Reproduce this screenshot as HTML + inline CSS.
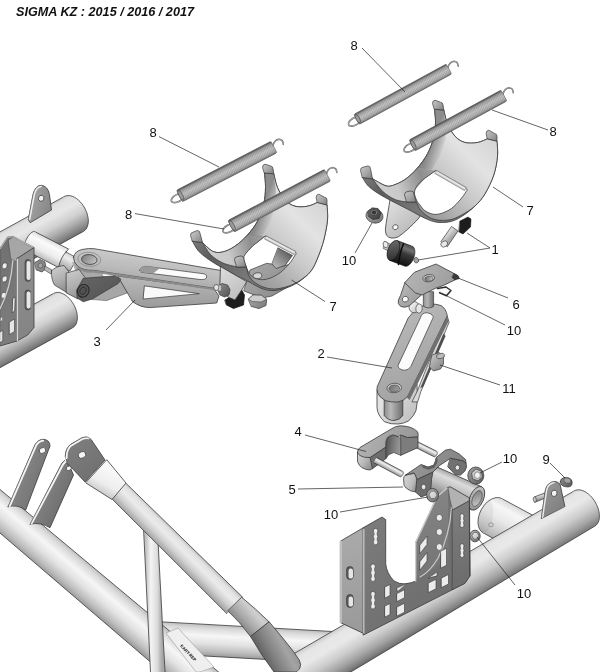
<!DOCTYPE html>
<html><head><meta charset="utf-8"><title>SIGMA KZ</title>
<style>
html,body{margin:0;padding:0;background:#fff;}
body{width:600px;height:672px;overflow:hidden;font-family:"Liberation Sans",sans-serif;}
svg{display:block;will-change:transform;opacity:0.999}
svg text{font-family:"Liberation Sans",sans-serif;fill:#111;}
</style></head><body>
<svg width="600" height="672" viewBox="0 0 600 672">
<defs>
<linearGradient id="g1" gradientUnits="userSpaceOnUse" x1="238.4" y1="626.2" x2="236.6" y2="657.8"><stop offset="0" stop-color="#bdbdbd"/><stop offset="0.12" stop-color="#d9d9d9"/><stop offset="0.35" stop-color="#f6f6f6"/><stop offset="0.6" stop-color="#e2e2e2"/><stop offset="0.85" stop-color="#bcbcbc"/><stop offset="1" stop-color="#9a9a9a"/></linearGradient>
<linearGradient id="g2" gradientUnits="userSpaceOnUse" x1="112.8" y1="583.6" x2="90.2" y2="610.4"><stop offset="0" stop-color="#bdbdbd"/><stop offset="0.12" stop-color="#d9d9d9"/><stop offset="0.35" stop-color="#f6f6f6"/><stop offset="0.6" stop-color="#e2e2e2"/><stop offset="0.85" stop-color="#bcbcbc"/><stop offset="1" stop-color="#9a9a9a"/></linearGradient>
<linearGradient id="g3" gradientUnits="userSpaceOnUse" x1="522.0" y1="509.5" x2="503.5" y2="543.8"><stop offset="0" stop-color="#dadada"/><stop offset="0.2" stop-color="#f6f6f6"/><stop offset="0.5" stop-color="#e9e9e9"/><stop offset="0.8" stop-color="#cbcbcb"/><stop offset="1" stop-color="#b0b0b0"/></linearGradient>
<linearGradient id="g4" gradientUnits="userSpaceOnUse" x1="431.5" y1="573.8" x2="453.2" y2="610.7"><stop offset="0" stop-color="#d0d0d0"/><stop offset="0.1" stop-color="#e6e6e6"/><stop offset="0.32" stop-color="#e9e9e9"/><stop offset="0.58" stop-color="#cccccc"/><stop offset="0.8" stop-color="#a4a4a4"/><stop offset="0.94" stop-color="#828282"/><stop offset="1" stop-color="#6e6e6e"/></linearGradient>
<linearGradient id="g5" gradientUnits="userSpaceOnUse" x1="146.0" y1="600.0" x2="162.0" y2="600.0"><stop offset="0" stop-color="#c4c4c4"/><stop offset="0.3" stop-color="#f4f4f4"/><stop offset="0.7" stop-color="#dcdcdc"/><stop offset="1" stop-color="#a8a8a8"/></linearGradient>
<linearGradient id="g6" gradientUnits="userSpaceOnUse" x1="184.6" y1="540.5" x2="169.2" y2="556.1"><stop offset="0" stop-color="#c2c2c2"/><stop offset="0.15" stop-color="#e2e2e2"/><stop offset="0.4" stop-color="#ebebeb"/><stop offset="0.7" stop-color="#cfcfcf"/><stop offset="1" stop-color="#a2a2a2"/></linearGradient>
<linearGradient id="g7" gradientUnits="userSpaceOnUse" x1="110.0" y1="470.0" x2="98.0" y2="492.0"><stop offset="0" stop-color="#f8f8f8"/><stop offset="0.6" stop-color="#ededed"/><stop offset="1" stop-color="#c9c9c9"/></linearGradient>
<linearGradient id="g8" gradientUnits="userSpaceOnUse" x1="264.0" y1="610.0" x2="242.0" y2="630.0"><stop offset="0" stop-color="#b4b4b4"/><stop offset="0.3" stop-color="#cfcfcf"/><stop offset="0.7" stop-color="#a6a6a6"/><stop offset="1" stop-color="#7d7d7d"/></linearGradient>
<linearGradient id="g9" gradientUnits="userSpaceOnUse" x1="291.0" y1="640.0" x2="263.0" y2="656.0"><stop offset="0" stop-color="#8f8f8f"/><stop offset="0.3" stop-color="#a4a4a4"/><stop offset="0.7" stop-color="#828282"/><stop offset="1" stop-color="#646464"/></linearGradient>
<linearGradient id="g10" gradientUnits="userSpaceOnUse" x1="75.0" y1="440.0" x2="100.0" y2="475.0"><stop offset="0" stop-color="#7e7e7e"/><stop offset="1" stop-color="#707070"/></linearGradient>
<linearGradient id="g11" gradientUnits="userSpaceOnUse" x1="20.0" y1="470.0" x2="45.0" y2="480.0"><stop offset="0" stop-color="#858585"/><stop offset="1" stop-color="#737373"/></linearGradient>
<linearGradient id="g12" gradientUnits="userSpaceOnUse" x1="45.0" y1="490.0" x2="65.0" y2="500.0"><stop offset="0" stop-color="#828282"/><stop offset="1" stop-color="#707070"/></linearGradient>
<linearGradient id="g13" gradientUnits="userSpaceOnUse" x1="535.0" y1="497.0" x2="536.0" y2="502.0"><stop offset="0" stop-color="#cfcfcf"/><stop offset="1" stop-color="#7d7d7d"/></linearGradient>
<linearGradient id="g14" gradientUnits="userSpaceOnUse" x1="546.0" y1="488.0" x2="566.0" y2="505.0"><stop offset="0" stop-color="#949494"/><stop offset="1" stop-color="#808080"/></linearGradient>
<linearGradient id="g15" gradientUnits="userSpaceOnUse" x1="562.0" y1="477.0" x2="572.0" y2="487.0"><stop offset="0" stop-color="#8c8c8c"/><stop offset="1" stop-color="#555"/></linearGradient>
<linearGradient id="g16" gradientUnits="userSpaceOnUse" x1="16.2" y1="314.0" x2="35.1" y2="348.4"><stop offset="0" stop-color="#cdcdcd"/><stop offset="0.08" stop-color="#e1e1e1"/><stop offset="0.3" stop-color="#e7e7e7"/><stop offset="0.55" stop-color="#d0d0d0"/><stop offset="0.75" stop-color="#a9a9a9"/><stop offset="0.9" stop-color="#878787"/><stop offset="1" stop-color="#707070"/></linearGradient>
<linearGradient id="g17" gradientUnits="userSpaceOnUse" x1="21.3" y1="220.2" x2="40.5" y2="255.0"><stop offset="0" stop-color="#cdcdcd"/><stop offset="0.08" stop-color="#e1e1e1"/><stop offset="0.3" stop-color="#e7e7e7"/><stop offset="0.55" stop-color="#d0d0d0"/><stop offset="0.75" stop-color="#a9a9a9"/><stop offset="0.9" stop-color="#878787"/><stop offset="1" stop-color="#707070"/></linearGradient>
<linearGradient id="g18" gradientUnits="userSpaceOnUse" x1="32.0" y1="200.0" x2="52.0" y2="205.0"><stop offset="0" stop-color="#a0a0a0"/><stop offset="1" stop-color="#868686"/></linearGradient>
<linearGradient id="g19" gradientUnits="userSpaceOnUse" x1="51.6" y1="240.3" x2="41.9" y2="259.0"><stop offset="0" stop-color="#dcdcdc"/><stop offset="0.25" stop-color="#fbfbfb"/><stop offset="0.65" stop-color="#ececec"/><stop offset="1" stop-color="#b9b9b9"/></linearGradient>
<linearGradient id="g20" gradientUnits="userSpaceOnUse" x1="72.0" y1="254.0" x2="64.0" y2="269.0"><stop offset="0" stop-color="#cfcfcf"/><stop offset="0.35" stop-color="#ececec"/><stop offset="1" stop-color="#a2a2a2"/></linearGradient>
<linearGradient id="g21" gradientUnits="userSpaceOnUse" x1="0.0" y1="250.0" x2="16.0" y2="330.0"><stop offset="0" stop-color="#727272"/><stop offset="1" stop-color="#7c7c7c"/></linearGradient>
<linearGradient id="g22" gradientUnits="userSpaceOnUse" x1="18.0" y1="255.0" x2="34.0" y2="330.0"><stop offset="0" stop-color="#8f8f8f"/><stop offset="1" stop-color="#858585"/></linearGradient>
<linearGradient id="g23" gradientUnits="userSpaceOnUse" x1="150.0" y1="280.0" x2="150.0" y2="308.0"><stop offset="0" stop-color="#b6b6b6"/><stop offset="1" stop-color="#9a9a9a"/></linearGradient>
<linearGradient id="g24" gradientUnits="userSpaceOnUse" x1="250.0" y1="262.0" x2="280.0" y2="292.0"><stop offset="0" stop-color="#a9a9a9"/><stop offset="1" stop-color="#8e8e8e"/></linearGradient>
<linearGradient id="g25" gradientUnits="userSpaceOnUse" x1="288.0" y1="252.0" x2="274.0" y2="267.0"><stop offset="0" stop-color="#5f5f5f"/><stop offset="0.5" stop-color="#8e8e8e"/><stop offset="1" stop-color="#b9b9b9"/></linearGradient>
<linearGradient id="g26" gradientUnits="userSpaceOnUse" x1="150.0" y1="252.0" x2="146.0" y2="285.0"><stop offset="0" stop-color="#cdcdcd"/><stop offset="0.6" stop-color="#b9b9b9"/><stop offset="1" stop-color="#a5a5a5"/></linearGradient>
<linearGradient id="g27" gradientUnits="userSpaceOnUse" x1="82.0" y1="255.0" x2="97.0" y2="264.0"><stop offset="0" stop-color="#7d7d7d"/><stop offset="1" stop-color="#c9c9c9"/></linearGradient>
<linearGradient id="g28" gradientUnits="userSpaceOnUse" x1="55.0" y1="268.0" x2="66.0" y2="292.0"><stop offset="0" stop-color="#c9c9c9"/><stop offset="0.4" stop-color="#b4b4b4"/><stop offset="1" stop-color="#8a8a8a"/></linearGradient>
<linearGradient id="g29" gradientUnits="userSpaceOnUse" x1="68.0" y1="272.0" x2="80.0" y2="298.0"><stop offset="0" stop-color="#c9c9c9"/><stop offset="0.5" stop-color="#b0b0b0"/><stop offset="1" stop-color="#909090"/></linearGradient>
<linearGradient id="g30" gradientUnits="userSpaceOnUse" x1="85.0" y1="276.0" x2="100.0" y2="300.0"><stop offset="0" stop-color="#646464"/><stop offset="1" stop-color="#585858"/></linearGradient>
<linearGradient id="g31" gradientUnits="userSpaceOnUse" x1="250.0" y1="296.0" x2="266.0" y2="308.0"><stop offset="0" stop-color="#a4a4a4"/><stop offset="1" stop-color="#7c7c7c"/></linearGradient>
<linearGradient id="g32" gradientUnits="userSpaceOnUse" x1="190.5" y1="232.5" x2="242.0" y2="278.3"><stop offset="0" stop-color="#858585"/><stop offset="0.45" stop-color="#5c5c5c"/><stop offset="1" stop-color="#777"/></linearGradient>
<linearGradient id="g33" gradientUnits="userSpaceOnUse" x1="236.0" y1="288.0" x2="322.0" y2="200.0"><stop offset="0" stop-color="#8a8a8a"/><stop offset="0.25" stop-color="#a4a4a4"/><stop offset="0.5" stop-color="#c8c8c8"/><stop offset="0.75" stop-color="#e3e3e3"/><stop offset="1" stop-color="#d4d4d4"/></linearGradient>
<linearGradient id="g34" gradientUnits="userSpaceOnUse" x1="202.5" y1="248.5" x2="265.5" y2="228.2"><stop offset="0" stop-color="#d0d0d0"/><stop offset="0.35" stop-color="#c9c9c9"/><stop offset="0.72" stop-color="#8e8e8e"/><stop offset="1" stop-color="#a6a6a6"/></linearGradient>
<linearGradient id="sh35" gradientUnits="userSpaceOnUse" x1="263.8" y1="203.8" x2="276.8" y2="208.8"><stop offset="0" stop-color="#7e7e7e" stop-opacity="0.85"/><stop offset="1" stop-color="#7e7e7e" stop-opacity="0"/></linearGradient>
<linearGradient id="g36" gradientUnits="userSpaceOnUse" x1="266.5" y1="236.0" x2="264.8" y2="239.2"><stop offset="0" stop-color="#bdbdbd"/><stop offset="0.4" stop-color="#efefef"/><stop offset="1" stop-color="#b0b0b0"/></linearGradient>
<linearGradient id="g37" gradientUnits="userSpaceOnUse" x1="190.5" y1="232.5" x2="202.5" y2="242.5"><stop offset="0" stop-color="#c6c6c6"/><stop offset="0.5" stop-color="#a6a6a6"/><stop offset="1" stop-color="#7e7e7e"/></linearGradient>
<linearGradient id="g38" gradientUnits="userSpaceOnUse" x1="262.5" y1="164.5" x2="273.8" y2="173.8"><stop offset="0" stop-color="#c6c6c6"/><stop offset="0.5" stop-color="#a6a6a6"/><stop offset="1" stop-color="#7e7e7e"/></linearGradient>
<linearGradient id="g39" gradientUnits="userSpaceOnUse" x1="316.2" y1="194.5" x2="327.0" y2="205.0"><stop offset="0" stop-color="#c6c6c6"/><stop offset="0.5" stop-color="#a6a6a6"/><stop offset="1" stop-color="#7e7e7e"/></linearGradient>
<linearGradient id="g40" gradientUnits="userSpaceOnUse" x1="234.5" y1="257.0" x2="246.2" y2="267.0"><stop offset="0" stop-color="#c6c6c6"/><stop offset="0.5" stop-color="#a6a6a6"/><stop offset="1" stop-color="#7e7e7e"/></linearGradient>
<linearGradient id="g41" gradientUnits="userSpaceOnUse" x1="222.0" y1="268.0" x2="242.0" y2="298.0"><stop offset="0" stop-color="#dcdcdc"/><stop offset="1" stop-color="#bdbdbd"/></linearGradient>
<linearGradient id="g42" gradientUnits="userSpaceOnUse" x1="218.0" y1="284.0" x2="230.0" y2="297.0"><stop offset="0" stop-color="#8a8a8a"/><stop offset="1" stop-color="#555"/></linearGradient>
<pattern id="sp43" patternUnits="userSpaceOnUse" width="1.7" height="20" patternTransform="translate(179.5 196.0) rotate(-19.4)"><rect width="1.7" height="20" fill="none"/><line x1="0.6" y1="0" x2="0.6" y2="20" stroke="#555" stroke-width="0.5" stroke-opacity="0.55"/></pattern>
<linearGradient id="g44" gradientUnits="userSpaceOnUse" x1="0.0" y1="-6.5" x2="0.0" y2="6.5"><stop offset="0" stop-color="#454545"/><stop offset="0.08" stop-color="#707070"/><stop offset="0.2" stop-color="#a6a6a6"/><stop offset="0.5" stop-color="#cdcdcd"/><stop offset="0.8" stop-color="#b4b4b4"/><stop offset="0.93" stop-color="#8c8c8c"/><stop offset="1" stop-color="#5e5e5e"/></linearGradient>
<pattern id="sp45" patternUnits="userSpaceOnUse" width="1.7" height="20" patternTransform="translate(231.0 226.3) rotate(-19.9)"><rect width="1.7" height="20" fill="none"/><line x1="0.6" y1="0" x2="0.6" y2="20" stroke="#555" stroke-width="0.5" stroke-opacity="0.55"/></pattern>
<linearGradient id="g46" gradientUnits="userSpaceOnUse" x1="0.0" y1="-6.6" x2="0.0" y2="6.6"><stop offset="0" stop-color="#454545"/><stop offset="0.08" stop-color="#707070"/><stop offset="0.2" stop-color="#a6a6a6"/><stop offset="0.5" stop-color="#cdcdcd"/><stop offset="0.8" stop-color="#b4b4b4"/><stop offset="0.93" stop-color="#8c8c8c"/><stop offset="1" stop-color="#5e5e5e"/></linearGradient>
<linearGradient id="g47" gradientUnits="userSpaceOnUse" x1="388.0" y1="205.0" x2="412.0" y2="232.0"><stop offset="0" stop-color="#dedede"/><stop offset="1" stop-color="#b9b9b9"/></linearGradient>
<linearGradient id="g48" gradientUnits="userSpaceOnUse" x1="444.0" y1="232.0" x2="451.0" y2="239.0"><stop offset="0" stop-color="#f4f4f4"/><stop offset="1" stop-color="#a4a4a4"/></linearGradient>
<linearGradient id="g49" gradientUnits="userSpaceOnUse" x1="404.8" y1="243.4" x2="397.2" y2="263.3"><stop offset="0" stop-color="#4e4e4e"/><stop offset="0.22" stop-color="#727272"/><stop offset="0.45" stop-color="#3a3a3a"/><stop offset="1" stop-color="#121212"/></linearGradient>
<linearGradient id="g50" gradientUnits="userSpaceOnUse" x1="388.0" y1="242.0" x2="399.0" y2="260.0"><stop offset="0" stop-color="#6a6a6a"/><stop offset="1" stop-color="#2c2c2c"/></linearGradient>
<linearGradient id="g51" gradientUnits="userSpaceOnUse" x1="367.0" y1="210.0" x2="382.0" y2="222.0"><stop offset="0" stop-color="#b4b4b4"/><stop offset="1" stop-color="#777"/></linearGradient>
<linearGradient id="g52" gradientUnits="userSpaceOnUse" x1="368.0" y1="208.0" x2="380.0" y2="220.0"><stop offset="0" stop-color="#6a6a6a"/><stop offset="1" stop-color="#3d3d3d"/></linearGradient>
<linearGradient id="g53" gradientUnits="userSpaceOnUse" x1="360.5" y1="167.5" x2="414.0" y2="212.5"><stop offset="0" stop-color="#858585"/><stop offset="0.45" stop-color="#5c5c5c"/><stop offset="1" stop-color="#777"/></linearGradient>
<linearGradient id="g54" gradientUnits="userSpaceOnUse" x1="406.0" y1="222.0" x2="492.0" y2="136.0"><stop offset="0" stop-color="#8a8a8a"/><stop offset="0.25" stop-color="#a4a4a4"/><stop offset="0.5" stop-color="#c8c8c8"/><stop offset="0.75" stop-color="#e3e3e3"/><stop offset="1" stop-color="#d4d4d4"/></linearGradient>
<linearGradient id="g55" gradientUnits="userSpaceOnUse" x1="372.5" y1="184.8" x2="435.8" y2="162.8"><stop offset="0" stop-color="#d0d0d0"/><stop offset="0.35" stop-color="#c9c9c9"/><stop offset="0.72" stop-color="#8e8e8e"/><stop offset="1" stop-color="#a6a6a6"/></linearGradient>
<linearGradient id="sh56" gradientUnits="userSpaceOnUse" x1="433.8" y1="137.5" x2="446.8" y2="142.5"><stop offset="0" stop-color="#7e7e7e" stop-opacity="0.85"/><stop offset="1" stop-color="#7e7e7e" stop-opacity="0"/></linearGradient>
<linearGradient id="g57" gradientUnits="userSpaceOnUse" x1="436.8" y1="170.5" x2="435.0" y2="173.6"><stop offset="0" stop-color="#bdbdbd"/><stop offset="0.4" stop-color="#efefef"/><stop offset="1" stop-color="#b0b0b0"/></linearGradient>
<linearGradient id="g58" gradientUnits="userSpaceOnUse" x1="360.5" y1="167.5" x2="372.5" y2="178.8"><stop offset="0" stop-color="#c6c6c6"/><stop offset="0.5" stop-color="#a6a6a6"/><stop offset="1" stop-color="#7e7e7e"/></linearGradient>
<linearGradient id="g59" gradientUnits="userSpaceOnUse" x1="432.5" y1="100.5" x2="443.8" y2="110.0"><stop offset="0" stop-color="#c6c6c6"/><stop offset="0.5" stop-color="#a6a6a6"/><stop offset="1" stop-color="#7e7e7e"/></linearGradient>
<linearGradient id="g60" gradientUnits="userSpaceOnUse" x1="486.2" y1="130.5" x2="497.0" y2="141.2"><stop offset="0" stop-color="#c6c6c6"/><stop offset="0.5" stop-color="#a6a6a6"/><stop offset="1" stop-color="#7e7e7e"/></linearGradient>
<linearGradient id="g61" gradientUnits="userSpaceOnUse" x1="404.5" y1="192.0" x2="416.2" y2="202.0"><stop offset="0" stop-color="#c6c6c6"/><stop offset="0.5" stop-color="#a6a6a6"/><stop offset="1" stop-color="#7e7e7e"/></linearGradient>
<pattern id="sp62" patternUnits="userSpaceOnUse" width="1.7" height="20" patternTransform="translate(356.5 119.4) rotate(-20.6)"><rect width="1.7" height="20" fill="none"/><line x1="0.6" y1="0" x2="0.6" y2="20" stroke="#555" stroke-width="0.5" stroke-opacity="0.55"/></pattern>
<linearGradient id="g63" gradientUnits="userSpaceOnUse" x1="0.0" y1="-5.7" x2="0.0" y2="5.7"><stop offset="0" stop-color="#454545"/><stop offset="0.08" stop-color="#707070"/><stop offset="0.2" stop-color="#a6a6a6"/><stop offset="0.5" stop-color="#cdcdcd"/><stop offset="0.8" stop-color="#b4b4b4"/><stop offset="0.93" stop-color="#8c8c8c"/><stop offset="1" stop-color="#5e5e5e"/></linearGradient>
<pattern id="sp64" patternUnits="userSpaceOnUse" width="1.7" height="20" patternTransform="translate(412.0 145.5) rotate(-20.5)"><rect width="1.7" height="20" fill="none"/><line x1="0.6" y1="0" x2="0.6" y2="20" stroke="#555" stroke-width="0.5" stroke-opacity="0.55"/></pattern>
<linearGradient id="g65" gradientUnits="userSpaceOnUse" x1="0.0" y1="-6.2" x2="0.0" y2="6.2"><stop offset="0" stop-color="#454545"/><stop offset="0.08" stop-color="#707070"/><stop offset="0.2" stop-color="#a6a6a6"/><stop offset="0.5" stop-color="#cdcdcd"/><stop offset="0.8" stop-color="#b4b4b4"/><stop offset="0.93" stop-color="#8c8c8c"/><stop offset="1" stop-color="#5e5e5e"/></linearGradient>
<linearGradient id="g66" gradientUnits="userSpaceOnUse" x1="458.9" y1="476.7" x2="448.8" y2="499.9"><stop offset="0" stop-color="#a6a6a6"/><stop offset="0.22" stop-color="#dcdcdc"/><stop offset="0.5" stop-color="#c2c2c2"/><stop offset="1" stop-color="#858585"/></linearGradient>
<linearGradient id="g67" gradientUnits="userSpaceOnUse" x1="470.0" y1="488.0" x2="484.0" y2="508.0"><stop offset="0" stop-color="#c4c4c4"/><stop offset="1" stop-color="#939393"/></linearGradient>
<linearGradient id="g68" gradientUnits="userSpaceOnUse" x1="470.0" y1="490.0" x2="484.0" y2="506.0"><stop offset="0" stop-color="#6f6f6f"/><stop offset="1" stop-color="#d4d4d4"/></linearGradient>
<linearGradient id="g69" gradientUnits="userSpaceOnUse" x1="341.0" y1="540.0" x2="363.0" y2="630.0"><stop offset="0" stop-color="#a9a9a9"/><stop offset="1" stop-color="#9a9a9a"/></linearGradient>
<linearGradient id="g70" gradientUnits="userSpaceOnUse" x1="364.0" y1="520.0" x2="470.0" y2="600.0"><stop offset="0" stop-color="#7c7c7c"/><stop offset="0.5" stop-color="#737373"/><stop offset="1" stop-color="#6c6c6c"/></linearGradient>
<linearGradient id="g71" gradientUnits="userSpaceOnUse" x1="416.0" y1="500.0" x2="452.0" y2="580.0"><stop offset="0" stop-color="#858585"/><stop offset="1" stop-color="#727272"/></linearGradient>
<linearGradient id="g72" gradientUnits="userSpaceOnUse" x1="455.0" y1="500.0" x2="470.0" y2="575.0"><stop offset="0" stop-color="#7f7f7f"/><stop offset="1" stop-color="#6e6e6e"/></linearGradient>
<linearGradient id="g73" gradientUnits="userSpaceOnUse" x1="403.0" y1="480.0" x2="418.0" y2="486.0"><stop offset="0" stop-color="#d4d4d4"/><stop offset="0.6" stop-color="#bdbdbd"/><stop offset="1" stop-color="#8f8f8f"/></linearGradient>
<linearGradient id="g74" gradientUnits="userSpaceOnUse" x1="410.0" y1="455.0" x2="460.0" y2="475.0"><stop offset="0" stop-color="#989898"/><stop offset="1" stop-color="#848484"/></linearGradient>
<linearGradient id="g75" gradientUnits="userSpaceOnUse" x1="423.6" y1="444.7" x2="420.9" y2="450.1"><stop offset="0" stop-color="#b4b4b4"/><stop offset="0.35" stop-color="#f0f0f0"/><stop offset="1" stop-color="#959595"/></linearGradient>
<linearGradient id="g76" gradientUnits="userSpaceOnUse" x1="386.0" y1="445.0" x2="402.0" y2="447.0"><stop offset="0" stop-color="#565656"/><stop offset="0.6" stop-color="#858585"/><stop offset="1" stop-color="#a0a0a0"/></linearGradient>
<linearGradient id="g77" gradientUnits="userSpaceOnUse" x1="357.0" y1="455.0" x2="373.0" y2="466.0"><stop offset="0" stop-color="#d2d2d2"/><stop offset="0.5" stop-color="#b9b9b9"/><stop offset="1" stop-color="#8c8c8c"/></linearGradient>
<linearGradient id="g78" gradientUnits="userSpaceOnUse" x1="365.0" y1="430.0" x2="410.0" y2="450.0"><stop offset="0" stop-color="#b2b2b2"/><stop offset="1" stop-color="#979797"/></linearGradient>
<linearGradient id="g79" gradientUnits="userSpaceOnUse" x1="389.6" y1="464.4" x2="386.8" y2="469.6"><stop offset="0" stop-color="#b4b4b4"/><stop offset="0.35" stop-color="#f0f0f0"/><stop offset="1" stop-color="#959595"/></linearGradient>
<linearGradient id="g80" gradientUnits="userSpaceOnUse" x1="380.0" y1="405.0" x2="415.0" y2="425.0"><stop offset="0" stop-color="#e2e2e2"/><stop offset="1" stop-color="#bcbcbc"/></linearGradient>
<linearGradient id="g81" gradientUnits="userSpaceOnUse" x1="430.0" y1="352.0" x2="444.0" y2="366.0"><stop offset="0" stop-color="#d0d0d0"/><stop offset="1" stop-color="#8a8a8a"/></linearGradient>
<linearGradient id="g82" gradientUnits="userSpaceOnUse" x1="384.0" y1="410.0" x2="403.0" y2="410.0"><stop offset="0" stop-color="#8a8a8a"/><stop offset="0.35" stop-color="#b9b9b9"/><stop offset="1" stop-color="#6c6c6c"/></linearGradient>
<linearGradient id="g83" gradientUnits="userSpaceOnUse" x1="395.0" y1="320.0" x2="432.0" y2="380.0"><stop offset="0" stop-color="#b7b7b7"/><stop offset="1" stop-color="#a3a3a3"/></linearGradient>
<linearGradient id="g84" gradientUnits="userSpaceOnUse" x1="388.0" y1="385.0" x2="400.0" y2="392.0"><stop offset="0" stop-color="#6a6a6a"/><stop offset="1" stop-color="#a6a6a6"/></linearGradient>
<linearGradient id="g85" gradientUnits="userSpaceOnUse" x1="409.0" y1="302.0" x2="419.0" y2="312.0"><stop offset="0" stop-color="#fdfdfd"/><stop offset="1" stop-color="#c2c2c2"/></linearGradient>
<linearGradient id="g86" gradientUnits="userSpaceOnUse" x1="423.0" y1="300.0" x2="434.0" y2="300.0"><stop offset="0" stop-color="#8c8c8c"/><stop offset="0.4" stop-color="#b5b5b5"/><stop offset="1" stop-color="#6a6a6a"/></linearGradient>
<linearGradient id="g87" gradientUnits="userSpaceOnUse" x1="398.0" y1="285.0" x2="420.0" y2="305.0"><stop offset="0" stop-color="#b9b9b9"/><stop offset="1" stop-color="#9a9a9a"/></linearGradient>
<linearGradient id="g88" gradientUnits="userSpaceOnUse" x1="410.0" y1="268.0" x2="450.0" y2="292.0"><stop offset="0" stop-color="#b4b4b4"/><stop offset="1" stop-color="#9d9d9d"/></linearGradient>
<linearGradient id="g89" gradientUnits="userSpaceOnUse" x1="425.0" y1="276.0" x2="433.0" y2="281.0"><stop offset="0" stop-color="#5e5e5e"/><stop offset="1" stop-color="#cfcfcf"/></linearGradient>
<linearGradient id="g90" gradientUnits="userSpaceOnUse" x1="426.6" y1="489.2" x2="438.6" y2="501.2"><stop offset="0" stop-color="#b4b4b4"/><stop offset="1" stop-color="#6e6e6e"/></linearGradient>
<linearGradient id="g91" gradientUnits="userSpaceOnUse" x1="426.6" y1="489.2" x2="438.6" y2="501.2"><stop offset="0" stop-color="#f0f0f0"/><stop offset="1" stop-color="#b9b9b9"/></linearGradient>
<linearGradient id="g92" gradientUnits="userSpaceOnUse" x1="469.8" y1="530.8" x2="480.2" y2="541.2"><stop offset="0" stop-color="#b4b4b4"/><stop offset="1" stop-color="#6e6e6e"/></linearGradient>
<linearGradient id="g93" gradientUnits="userSpaceOnUse" x1="469.8" y1="530.8" x2="480.2" y2="541.2"><stop offset="0" stop-color="#f0f0f0"/><stop offset="1" stop-color="#b9b9b9"/></linearGradient>
<linearGradient id="g94" gradientUnits="userSpaceOnUse" x1="467.8" y1="467.6" x2="483.8" y2="483.6"><stop offset="0" stop-color="#a0a0a0"/><stop offset="1" stop-color="#5e5e5e"/></linearGradient>
<linearGradient id="g95" gradientUnits="userSpaceOnUse" x1="467.8" y1="467.6" x2="483.8" y2="483.6"><stop offset="0" stop-color="#dedede"/><stop offset="1" stop-color="#9d9d9d"/></linearGradient>
</defs>
<rect width="600" height="672" fill="#fff"/>
<text x="16" y="15.6" font-size="12.2" font-weight="bold" font-style="italic" fill="#000" textLength="178" lengthAdjust="spacingAndGlyphs">SIGMA KZ : 2015 / 2016 / 2017</text>
<polygon points="140.9,620.7 335.9,631.7 334.1,663.3 139.1,652.3" fill="url(#g1)" stroke="none"/>
<line x1="140.9" y1="620.7" x2="335.9" y2="631.7" stroke="#3a3a3a" stroke-width="0.8"/>
<line x1="139.1" y1="652.3" x2="334.1" y2="663.3" stroke="#3a3a3a" stroke-width="0.8"/>
<polygon points="-1.3,488.4 226.9,678.9 203.1,707.1 -22.7,513.6" fill="url(#g2)" stroke="none"/>
<line x1="-1.3" y1="488.4" x2="226.9" y2="678.9" stroke="#3a3a3a" stroke-width="0.8"/>
<line x1="-22.7" y1="513.6" x2="203.1" y2="707.1" stroke="#3a3a3a" stroke-width="0.8"/>
<polygon points="166.0,633.0 178.0,628.0 214.0,667.0 200.0,672.0 196.0,672.0" fill="#efefef" stroke="#888" stroke-width="0.5" stroke-linejoin="round" />
<text x="0" y="0" font-size="4.2" transform="translate(180,646) rotate(47)" fill="#333" font-weight="bold">KART-REP</text>
<polygon points="501.8,498.6 542.3,520.4 523.7,554.8 483.2,532.9" fill="url(#g3)" stroke="none"/>
<line x1="501.8" y1="498.6" x2="542.3" y2="520.4" stroke="#3a3a3a" stroke-width="0.8"/>
<line x1="483.2" y1="532.9" x2="523.7" y2="554.8" stroke="#3a3a3a" stroke-width="0.8"/>
<polygon points="483.2,532.9 481.9,532.0 480.7,530.8 479.7,529.3 478.9,527.6 478.4,525.7 478.0,523.6 478.0,521.4 478.2,519.1 478.6,516.7 479.3,514.4 480.2,512.0 481.3,509.7 482.6,507.5 484.1,505.5 485.7,503.6 487.4,501.9 489.3,500.5 491.1,499.4 493.0,498.5 494.9,497.9 496.8,497.6 498.6,497.6 500.2,497.9 501.8,498.6 502.8,499.2 484.3,533.5" fill="url(#g3)" stroke="none"/>
<polyline points="483.2,532.9 481.9,532.0 480.7,530.8 479.7,529.3 478.9,527.6 478.4,525.7 478.0,523.6 478.0,521.4 478.2,519.1 478.6,516.7 479.3,514.4 480.2,512.0 481.3,509.7 482.6,507.5 484.1,505.5 485.7,503.6 487.4,501.9 489.3,500.5 491.1,499.4 493.0,498.5 494.9,497.9 496.8,497.6 498.6,497.6 500.2,497.9 501.8,498.6" fill="none" stroke="#3a3a3a" stroke-width="0.8"/>
<ellipse cx="486" cy="516" rx="7" ry="17" transform="rotate(8 486 516)" fill="#000" opacity="0.05"/>
<ellipse cx="491.0" cy="524.8" rx="2.3" ry="2.0" transform="rotate(0.0 491.0 524.8)" fill="#cfcfcf" stroke="#777" stroke-width="0.6"/>
<polygon points="574.1,490.9 288.8,656.6 311.6,695.4 594.9,526.1" fill="url(#g4)" stroke="none"/>
<line x1="574.1" y1="490.9" x2="288.8" y2="656.6" stroke="#3a3a3a" stroke-width="0.8"/>
<line x1="594.9" y1="526.1" x2="311.6" y2="695.4" stroke="#3a3a3a" stroke-width="0.8"/>
<polygon points="574.1,490.9 575.6,490.2 577.3,489.9 579.1,489.8 580.9,490.1 582.8,490.7 584.8,491.6 586.7,492.8 588.6,494.2 590.5,495.9 592.2,497.8 593.8,499.9 595.3,502.2 596.5,504.5 597.6,506.9 598.4,509.4 599.0,511.8 599.3,514.2 599.4,516.4 599.3,518.6 598.9,520.5 598.2,522.3 597.3,523.8 596.2,525.1 594.9,526.1 593.8,526.7 573.1,491.5" fill="url(#g4)" stroke="none"/>
<polyline points="574.1,490.9 575.6,490.2 577.3,489.9 579.1,489.8 580.9,490.1 582.8,490.7 584.8,491.6 586.7,492.8 588.6,494.2 590.5,495.9 592.2,497.8 593.8,499.9 595.3,502.2 596.5,504.5 597.6,506.9 598.4,509.4 599.0,511.8 599.3,514.2 599.4,516.4 599.3,518.6 598.9,520.5 598.2,522.3 597.3,523.8 596.2,525.1 594.9,526.1" fill="none" stroke="#3a3a3a" stroke-width="0.8"/>
<polygon points="143.5,528.0 158.0,541.0 165.0,672.0 150.5,672.0" fill="url(#g5)" stroke="none" stroke-width="0.8" stroke-linejoin="round" />
<line x1="143.5" y1="528.0" x2="150.5" y2="672.0" stroke="#3a3a3a" stroke-width="0.8"/>
<line x1="158.0" y1="541.0" x2="165.0" y2="672.0" stroke="#3a3a3a" stroke-width="0.8"/>
<polygon points="126.1,483.4 243.0,597.6 227.0,613.8 111.4,498.3" fill="url(#g6)" stroke="none"/>
<line x1="126.1" y1="483.4" x2="243.0" y2="597.6" stroke="#3a3a3a" stroke-width="0.8"/>
<line x1="111.4" y1="498.3" x2="227.0" y2="613.8" stroke="#3a3a3a" stroke-width="0.8"/>
<path d="M107,460 L126,483 L112,499.5 L86,483 Z" fill="url(#g7)" stroke="#3a3a3a" stroke-width="0.8" stroke-linejoin="round" stroke-linecap="round" />
<path d="M242,597.5 Q256,609 269.3,622 L250.7,636.7 Q240,622 228,611 Z" fill="url(#g8)" stroke="#3a3a3a" stroke-width="0.8" stroke-linejoin="round" stroke-linecap="round" />
<path d="M269.3,622 L282.7,638 L293.3,651.3 L299.2,659.9 Q302,665 299.5,669 L296,672 L274,672 L270.7,667.3 L261.3,654 L250.7,636.7 Z" fill="url(#g9)" stroke="#3a3a3a" stroke-width="0.8" stroke-linejoin="round" stroke-linecap="round" />
<path d="M65.3,456 Q65.5,449 70,444.8 L82,437.8 Q88,435.6 91.5,440 L105,460 L85,482 L67.7,463.5 Z" fill="url(#g10)" stroke="#3a3a3a" stroke-width="0.8" stroke-linejoin="round" stroke-linecap="round" />
<path d="M66.6,458 Q66.3,449.5 71,445.6 L82.4,438.9 Q86,437.4 89,438.2" fill="none" stroke="#f4f4f4" stroke-width="2" stroke-linejoin="round" stroke-linecap="round" />
<path d="M65.3,456 Q65.5,449 70,444.8 L82,437.8 Q88,435.6 91.5,440" fill="none" stroke="#666" stroke-width="0.7" stroke-linejoin="round" stroke-linecap="round" />
<ellipse cx="82.0" cy="454.9" rx="3.9" ry="3.2" transform="rotate(-30.0 82.0 454.9)" fill="#f4f4f4" stroke="#3a3a3a" stroke-width="0.7"/>
<path d="M8.2,506.7 L35,444.8 Q38,439.5 43.5,439.3 Q50,440 50,446 L25.7,510 Q17,504 8.2,506.7 Z" fill="url(#g11)" stroke="#3a3a3a" stroke-width="0.8" stroke-linejoin="round" stroke-linecap="round" />
<path d="M9.6,506 L36,445.4 Q38.6,440.8 43,440.6" fill="none" stroke="#f4f4f4" stroke-width="2.2" stroke-linejoin="round" stroke-linecap="round" />
<path d="M8.2,506.7 L35,444.8 Q38,439.5 43.5,439.3" fill="none" stroke="#666" stroke-width="0.7" stroke-linejoin="round" stroke-linecap="round" />
<ellipse cx="42.5" cy="450.5" rx="3.4" ry="2.8" transform="rotate(-30.0 42.5 450.5)" fill="#f4f4f4" stroke="#3a3a3a" stroke-width="0.7"/>
<path d="M30.3,524 L61.8,463.5 L64.5,460.5 L70,467 L73.5,475 L50,527.7 Q41,522 30.3,524 Z" fill="url(#g12)" stroke="#3a3a3a" stroke-width="0.8" stroke-linejoin="round" stroke-linecap="round" />
<path d="M31.6,523.3 L63,464.2 L65,462" fill="none" stroke="#f4f4f4" stroke-width="2.2" stroke-linejoin="round" stroke-linecap="round" />
<path d="M30.3,524 L61.8,463.5 L64.5,460.5" fill="none" stroke="#666" stroke-width="0.7" stroke-linejoin="round" stroke-linecap="round" />
<ellipse cx="68.8" cy="468.3" rx="2.6" ry="2.1" transform="rotate(-30.0 68.8 468.3)" fill="#f4f4f4" stroke="#3a3a3a" stroke-width="0.6"/>
<path d="M534.7,496.8 L544.5,493 L545.5,498 L535,502.2 Z" fill="url(#g13)" stroke="#3a3a3a" stroke-width="0.7" stroke-linejoin="round" stroke-linecap="round" />
<ellipse cx="534.8" cy="499.5" rx="1.5" ry="2.7" transform="rotate(-10.0 534.8 499.5)" fill="#c9c9c9" stroke="#3a3a3a" stroke-width="0.6"/>
<path d="M541.4,518.2 L545.4,490 Q546.5,485.5 548.7,484 Q551.5,481.5 554.8,481.4 Q558,481.8 560,484 L564.8,506.1 Z" fill="url(#g14)" stroke="#3a3a3a" stroke-width="0.8" stroke-linejoin="round" stroke-linecap="round" />
<path d="M542.5,517 L546.4,490.2 Q547.4,486.2 549.3,484.8 Q551.6,482.7 554,482.4" fill="none" stroke="#ececec" stroke-width="1.8" stroke-linejoin="round" stroke-linecap="round" />
<path d="M541.4,518.2 L545.4,490 Q546.5,485.5 548.7,484 Q551.5,481.5 554.8,481.4" fill="none" stroke="#666" stroke-width="0.7" stroke-linejoin="round" stroke-linecap="round" />
<ellipse cx="554.2" cy="493.3" rx="2.8" ry="3.2" transform="rotate(15.0 554.2 493.3)" fill="#f4f4f4" stroke="#3a3a3a" stroke-width="0.7"/>
<path d="M560.3,481.5 Q560.5,478.5 564,477.6 L568.5,477.8 Q572,479 572.2,482 L571.8,485 Q570.5,487.2 567.5,487 L563.5,486.3 Q560.3,485 560.3,481.5 Z" fill="url(#g15)" stroke="#3a3a3a" stroke-width="0.7" stroke-linejoin="round" stroke-linecap="round" />
<ellipse cx="567.3" cy="480.6" rx="3.6" ry="2.6" transform="rotate(15.0 567.3 480.6)" fill="#a2a2a2" stroke="#444" stroke-width="0.5"/>
<polygon points="53.8,293.3 -21.4,334.7 -2.6,369.1 72.7,327.7" fill="url(#g16)" stroke="none"/>
<line x1="53.8" y1="293.3" x2="-21.4" y2="334.7" stroke="#3a3a3a" stroke-width="0.8"/>
<line x1="72.7" y1="327.7" x2="-2.6" y2="369.1" stroke="#3a3a3a" stroke-width="0.8"/>
<polygon points="53.8,293.3 55.3,292.7 56.8,292.4 58.5,292.4 60.3,292.7 62.2,293.4 64.0,294.3 65.8,295.5 67.6,296.9 69.3,298.6 71.0,300.5 72.4,302.5 73.8,304.7 74.9,307.0 75.9,309.4 76.6,311.7 77.1,314.1 77.3,316.4 77.4,318.6 77.1,320.6 76.7,322.5 76.0,324.2 75.1,325.6 74.0,326.8 72.7,327.7 71.6,328.3 52.8,293.9" fill="url(#g16)" stroke="none"/>
<polyline points="53.8,293.3 55.3,292.7 56.8,292.4 58.5,292.4 60.3,292.7 62.2,293.4 64.0,294.3 65.8,295.5 67.6,296.9 69.3,298.6 71.0,300.5 72.4,302.5 73.8,304.7 74.9,307.0 75.9,309.4 76.6,311.7 77.1,314.1 77.3,316.4 77.4,318.6 77.1,320.6 76.7,322.5 76.0,324.2 75.1,325.6 74.0,326.8 72.7,327.7" fill="none" stroke="#3a3a3a" stroke-width="0.8"/>
<polygon points="64.2,196.6 -21.6,243.8 -2.4,278.6 83.4,231.4" fill="url(#g17)" stroke="none"/>
<line x1="64.2" y1="196.6" x2="-21.6" y2="243.8" stroke="#3a3a3a" stroke-width="0.8"/>
<line x1="83.4" y1="231.4" x2="-2.4" y2="278.6" stroke="#3a3a3a" stroke-width="0.8"/>
<polygon points="64.2,196.6 65.7,195.9 67.3,195.6 69.1,195.6 70.9,195.9 72.8,196.5 74.7,197.4 76.6,198.6 78.4,200.1 80.2,201.8 81.8,203.7 83.3,205.8 84.7,208.0 85.8,210.4 86.8,212.7 87.5,215.2 88.0,217.5 88.3,219.9 88.3,222.1 88.0,224.2 87.5,226.1 86.8,227.8 85.9,229.3 84.7,230.5 83.4,231.4 82.3,232.0 63.2,197.1" fill="url(#g17)" stroke="none"/>
<polyline points="64.2,196.6 65.7,195.9 67.3,195.6 69.1,195.6 70.9,195.9 72.8,196.5 74.7,197.4 76.6,198.6 78.4,200.1 80.2,201.8 81.8,203.7 83.3,205.8 84.7,208.0 85.8,210.4 86.8,212.7 87.5,215.2 88.0,217.5 88.3,219.9 88.3,222.1 88.0,224.2 87.5,226.1 86.8,227.8 85.9,229.3 84.7,230.5 83.4,231.4" fill="none" stroke="#3a3a3a" stroke-width="0.8"/>
<path d="M28.4,219.4 L33,194.7 Q35,186 41,185.3 Q48,186 49.5,194.7 L51.5,210 L30.5,222.5 Z" fill="url(#g18)" stroke="#3a3a3a" stroke-width="0.8" stroke-linejoin="round" stroke-linecap="round" />
<path d="M29.5,219 L34,195 Q35.8,187.3 41,186.4" fill="none" stroke="#efefef" stroke-width="1.9" stroke-linejoin="round" stroke-linecap="round" />
<path d="M28.4,219.4 L33,194.7 Q35,186 41,185.3" fill="none" stroke="#666" stroke-width="0.7" stroke-linejoin="round" stroke-linecap="round" />
<ellipse cx="41.2" cy="198.3" rx="2.7" ry="3.0" transform="rotate(20.0 41.2 198.3)" fill="#f2f2f2" stroke="#3a3a3a" stroke-width="0.7"/>
<polygon points="34.8,231.7 68.3,248.9 58.7,267.6 25.2,250.3" fill="url(#g19)" stroke="none"/>
<line x1="34.8" y1="231.7" x2="68.3" y2="248.9" stroke="#3a3a3a" stroke-width="0.8"/>
<line x1="25.2" y1="250.3" x2="58.7" y2="267.6" stroke="#3a3a3a" stroke-width="0.8"/>
<polygon points="25.2,250.3 24.8,250.0 24.4,249.5 24.2,248.9 24.1,248.2 24.0,247.3 24.1,246.3 24.3,245.2 24.5,244.1 24.9,242.9 25.3,241.6 25.8,240.4 26.4,239.2 27.1,238.0 27.8,236.8 28.6,235.7 29.3,234.7 30.1,233.9 30.9,233.1 31.6,232.5 32.4,232.0 33.1,231.7 33.7,231.5 34.3,231.5 34.8,231.7 35.9,232.2 26.3,250.9" fill="url(#g19)" stroke="none"/>
<polyline points="25.2,250.3 24.8,250.0 24.4,249.5 24.2,248.9 24.1,248.2 24.0,247.3 24.1,246.3 24.3,245.2 24.5,244.1 24.9,242.9 25.3,241.6 25.8,240.4 26.4,239.2 27.1,238.0 27.8,236.8 28.6,235.7 29.3,234.7 30.1,233.9 30.9,233.1 31.6,232.5 32.4,232.0 33.1,231.7 33.7,231.5 34.3,231.5 34.8,231.7" fill="none" stroke="#3a3a3a" stroke-width="0.8"/>
<path d="M68.5,249 Q62,256 58.5,267.5" fill="none" stroke="#3a3a3a" stroke-width="0.8" stroke-linejoin="round" stroke-linecap="round" />
<path d="M66,252 L77,258 L70,271 L58.8,266.5 Q61,257 66,252 Z" fill="url(#g20)" stroke="#3a3a3a" stroke-width="0.7" stroke-linejoin="round" stroke-linecap="round" />
<path d="M35,262.5 L40,259.5 L45,262 L46,268.5 L42,272 L36.5,270 Z" fill="#8a8a8a" stroke="#3a3a3a" stroke-width="0.7" stroke-linejoin="round" stroke-linecap="round" />
<ellipse cx="40.5" cy="265.5" rx="2.3" ry="2.6" transform="rotate(0.0 40.5 265.5)" fill="#a5a5a5" stroke="#3a3a3a" stroke-width="0.5"/>
<path d="M45,266 L52,270 L51,274 L44.5,270 Z" fill="#b8b8b8" stroke="#3a3a3a" stroke-width="0.6" stroke-linejoin="round" stroke-linecap="round" />
<path d="M0,248.3 L7.4,237.2 L13,236.3 L17,238.5 L17,341 L0,346 Z" fill="url(#g21)" stroke="#3a3a3a" stroke-width="0.8" stroke-linejoin="round" stroke-linecap="round" />
<path d="M8.5,240 L13,237 L33.5,248 L18,258.5 L17,262 L11,259 Z" fill="#a6a6a6" stroke="#555" stroke-width="0.6" stroke-linejoin="round" stroke-linecap="round" />
<path d="M0,248.3 L7.4,237.2 L13,236.3 L34,247.4" fill="none" stroke="#dcdcdc" stroke-width="1.4" stroke-linejoin="round" stroke-linecap="round" />
<path d="M0,248.3 L7.4,237.2 L13,236.3 L34,247.4" fill="none" stroke="#555" stroke-width="0.5" stroke-linejoin="round" stroke-linecap="round" />
<path d="M17,258.5 L34,247.6 L34,327.6 L27.7,335 L17,341 Z" fill="url(#g22)" stroke="#3a3a3a" stroke-width="0.8" stroke-linejoin="round" stroke-linecap="round" />
<path d="M17.3,259.5 L17.3,340.5" fill="none" stroke="#d6d6d6" stroke-width="1.5" stroke-linejoin="round" stroke-linecap="round" />
<rect x="25" y="259.4" width="5.6" height="22" rx="2.8" fill="#5f5f5f" stroke="#3a3a3a" stroke-width="0.6"/>
<rect x="26.6" y="260.9" width="4" height="19" rx="2" fill="#e8e8e8"/>
<rect x="25" y="290.0" width="5.6" height="20" rx="2.8" fill="#5f5f5f" stroke="#3a3a3a" stroke-width="0.6"/>
<rect x="26.6" y="291.5" width="4" height="17" rx="2" fill="#e8e8e8"/>
<ellipse cx="4.6" cy="265.8" rx="2.5" ry="3.1" transform="rotate(20.0 4.6 265.8)" fill="#ececec" stroke="#3a3a3a" stroke-width="0.6"/>
<ellipse cx="4.6" cy="279.0" rx="2.5" ry="3.1" transform="rotate(20.0 4.6 279.0)" fill="#ececec" stroke="#3a3a3a" stroke-width="0.6"/>
<ellipse cx="3.7" cy="295.3" rx="2.5" ry="3.1" transform="rotate(20.0 3.7 295.3)" fill="#ececec" stroke="#3a3a3a" stroke-width="0.6"/>
<path d="M13,260.5 Q11,288 0,309" fill="none" stroke="#cdcdcd" stroke-width="1.5" stroke-linejoin="round" stroke-linecap="round" />
<path d="M14,260.5 Q12,288 0.8,310" fill="none" stroke="#555" stroke-width="0.4" stroke-linejoin="round" stroke-linecap="round" />
<path d="M13,298.5 L15.2,297 L14.6,311 L12.4,312.5 Z" fill="#e6e6e6" stroke="#3a3a3a" stroke-width="0.6" stroke-linejoin="round" stroke-linecap="round" />
<path d="M9.5,322 L14.5,319 L14.5,331.5 L9.5,334.5 Z" fill="#e6e6e6" stroke="#3a3a3a" stroke-width="0.6" stroke-linejoin="round" stroke-linecap="round" />
<path d="M0,332 L2.8,330.3 L2.8,341 L0,342.6 Z" fill="#e6e6e6" stroke="#3a3a3a" stroke-width="0.6" stroke-linejoin="round" stroke-linecap="round" />
<path d="M0.5,318 l2,-1.2 l0,3.4 l-2,1.2 Z" fill="#e6e6e6" stroke="#555" stroke-width="0.4" stroke-linejoin="round" stroke-linecap="round" />
<path d="M92,299.2 L118.3,283.3 L120.8,279.2 L128,281.5 L131,291.5 L107,300.5 Z" fill="#a6a6a6" stroke="#555" stroke-width="0.6" stroke-linejoin="round" stroke-linecap="round" />
<path d="M118,276 L214,289 L219,296 L216.7,303 L150,307.6 Q140,307.5 132.7,301.7 Z" fill="url(#g23)" stroke="#3a3a3a" stroke-width="0.8" stroke-linejoin="round" stroke-linecap="round" />
<path d="M144.7,285.9 L199.3,293.7 L143.5,299 Z" fill="#fafafa" stroke="#3a3a3a" stroke-width="0.7" stroke-linejoin="round" stroke-linecap="round" />
<path d="M246.7,281.7 L250,270 L266.7,263.3 L284,266 L296,262 L300,280 L272,296 L262,298 L244,291 Z" fill="url(#g24)" stroke="#3a3a3a" stroke-width="0.7" stroke-linejoin="round" stroke-linecap="round" />
<ellipse cx="257.5" cy="275.8" rx="4.4" ry="3.1" transform="rotate(-10.0 257.5 275.8)" fill="#d7d7d7" stroke="#3a3a3a" stroke-width="0.7"/>
<path d="M278.2,248 L292.5,255.5 L285,265.5 L276,268.5 L272.2,264 Z" fill="url(#g25)" stroke="#3a3a3a" stroke-width="0.7" stroke-linejoin="round" stroke-linecap="round" />
<path d="M72,262 L100,268 L104,277 L83,279.5 L76,272 Z" fill="#a9a9a9" stroke="none" stroke-width="0" stroke-linejoin="round" stroke-linecap="round" />
<path d="M73.5,257 Q75,251 82,249.5 Q89,248 94,248.7 L221,270.5 Q231,272.5 232,276 Q231,281 224,289.5 L214,288.3 L93.3,270.3 Q84,271 78,266.5 Q73,262 73.5,257 Z" fill="url(#g26)" stroke="#3a3a3a" stroke-width="0.8" stroke-linejoin="round" stroke-linecap="round" />
<path d="M78,266.5 Q84,271 93.3,270.3 L214,288.3 L214.5,290.3 L93,272.6 Q83,273.2 77,268.5 Z" fill="#8c8c8c" stroke="none" stroke-width="0" stroke-linejoin="round" stroke-linecap="round" />
<path d="M139.5,270.3 Q140,267 146,266.3 L204,273.8 Q208,275 206.5,278 Q205,280 201,279.6 L144,272.6 Q139.5,272.4 139.5,270.3 Z" fill="#fbfbfb" stroke="#3a3a3a" stroke-width="0.7" stroke-linejoin="round" stroke-linecap="round" />
<path d="M139.5,270.3 Q140,267 146,266.3 L160,268.1 L153,273.6 L144,272.6 Q139.5,272.4 139.5,270.3 Z" fill="#9a9a9a" stroke="none" stroke-width="0" stroke-linejoin="round" stroke-linecap="round" />
<ellipse cx="89.3" cy="259.3" rx="11.5" ry="7.0" transform="rotate(6.0 89.3 259.3)" fill="none" stroke="#8a8a8a" stroke-width="0.8"/>
<ellipse cx="89.3" cy="259.5" rx="7.8" ry="4.9" transform="rotate(6.0 89.3 259.5)" fill="url(#g27)" stroke="#3a3a3a" stroke-width="0.8"/>
<path d="M51.5,271 Q55,266.5 64,265.5 L69,272 L67.5,293 L54.5,285 Q51,279 51.5,271 Z" fill="url(#g28)" stroke="#3a3a3a" stroke-width="0.7" stroke-linejoin="round" stroke-linecap="round" />
<path d="M66.5,273 L79,269.5 L85,277.5 L77,290 L78,299 L66.5,293 Z" fill="url(#g29)" stroke="#3a3a3a" stroke-width="0.7" stroke-linejoin="round" stroke-linecap="round" />
<path d="M76.7,290 L83.3,278.3 L115,275.8 L120.8,279.2 L118.3,283.3 L91.7,299.2 L83.3,301.7 L77.5,298.3 Z" fill="url(#g30)" stroke="#3a3a3a" stroke-width="0.7" stroke-linejoin="round" stroke-linecap="round" />
<ellipse cx="83.3" cy="290.8" rx="5.6" ry="6.6" transform="rotate(25.0 83.3 290.8)" fill="#565656" stroke="#1f1f1f" stroke-width="0.9"/>
<ellipse cx="83.0" cy="290.8" rx="3.0" ry="3.8" transform="rotate(25.0 83.0 290.8)" fill="#505050" stroke="#262626" stroke-width="0.7"/>
<path d="M225,300 L241.7,290 L244.5,295 L243.5,305 L233.5,308.6 L226.5,305 Z" fill="#1e1e1e" stroke="#000" stroke-width="0.6" stroke-linejoin="round" stroke-linecap="round" />
<path d="M248.5,299 L253,295 L261.5,295.3 L266.7,299.3 L266,305.5 L259,308.6 L251.5,306.5 Z" fill="url(#g31)" stroke="#3a3a3a" stroke-width="0.7" stroke-linejoin="round" stroke-linecap="round" />
<path d="M248.5,299 L253,295 L261.5,295.3 L266.7,299.3 L261,302 L252.5,301.5 Z" fill="#cdcdcd" stroke="#3a3a3a" stroke-width="0.5" stroke-linejoin="round" stroke-linecap="round" />
<path d="M192.5,241.2 L202.5,242.5 C204.2,244.0 209.2,249.7 212.5,251.2 C215.8,252.8 218.8,252.8 222.5,252.0 C226.2,251.2 230.8,249.1 235.0,246.2 C239.2,243.4 243.8,239.2 247.5,235.0 C251.2,230.8 254.8,226.5 257.5,221.2 C260.2,216.0 262.4,209.4 263.8,203.8 C265.1,198.1 265.4,192.6 265.5,187.5 C265.6,182.4 264.7,175.4 264.5,173.0 L273.8,173.8 C274.4,176.0 275.6,183.1 277.5,187.5 C279.4,191.9 282.1,196.9 285.0,200.0 C287.9,203.1 291.2,205.2 295.0,206.2 C298.8,207.3 303.8,206.9 307.5,206.2 C311.2,205.6 315.8,203.1 317.5,202.5 L327.0,205.0 C327.1,207.5 328.0,214.2 327.5,220.0 C327.0,225.8 325.3,233.8 323.8,240.0 C322.2,246.2 320.1,251.8 318.0,257.0 C315.9,262.2 314.0,267.0 311.0,271.0 C308.0,275.0 303.8,278.3 300.0,281.0 C296.2,283.7 292.2,285.7 288.0,287.3 C283.8,288.9 278.8,290.2 274.5,290.5 C270.2,290.8 266.6,290.2 262.5,288.8 C258.4,287.4 253.4,284.1 250.0,282.3 C246.6,280.6 244.5,279.5 242.0,278.3 C239.5,277.1 238.4,276.8 235.0,275.0 C231.6,273.2 226.1,270.1 221.7,267.5 C217.2,264.9 212.2,262.0 208.3,259.2 C204.4,256.4 200.9,253.8 198.3,250.8 C195.7,247.8 193.5,242.8 192.5,241.2 Z M265.5,236.2 C267.9,237.5 275.1,241.3 280.0,244.0 C284.9,246.7 292.8,250.3 295.2,252.3 C297.6,254.3 295.2,254.5 294.5,256.0 C293.8,257.5 292.6,259.4 291.0,261.5 C289.4,263.6 287.2,266.3 285.0,268.5 C282.8,270.7 280.0,272.9 277.5,274.5 C275.0,276.1 272.5,277.3 270.0,278.2 C267.5,279.1 265.0,279.7 262.5,279.7 C260.0,279.7 257.0,279.0 255.0,278.2 C253.0,277.4 251.9,276.8 250.5,275.0 C249.1,273.2 247.6,270.6 246.5,267.5 C245.4,264.4 243.0,260.0 244.0,256.5 C245.0,253.0 251.1,248.0 252.5,246.2 Z" fill="url(#g32)" stroke="none" stroke-width="0" stroke-linejoin="round" stroke-linecap="round" fill-rule="evenodd"/>
<path d="M192.5,241.2 L202.5,242.5 C204.2,244.0 209.2,249.7 212.5,251.2 C215.8,252.8 218.8,252.8 222.5,252.0 C226.2,251.2 230.8,249.1 235.0,246.2 C239.2,243.4 243.8,239.2 247.5,235.0 C251.2,230.8 254.8,226.5 257.5,221.2 C260.2,216.0 262.4,209.4 263.8,203.8 C265.1,198.1 265.4,192.6 265.5,187.5 C265.6,182.4 264.7,175.4 264.5,173.0 L273.8,173.8 C274.4,176.0 275.6,183.1 277.5,187.5 C279.4,191.9 282.1,196.9 285.0,200.0 C287.9,203.1 291.2,205.2 295.0,206.2 C298.8,207.3 303.8,206.9 307.5,206.2 C311.2,205.6 315.8,203.1 317.5,202.5 L327.0,205.0 C327.1,207.5 328.0,214.2 327.5,220.0 C327.0,225.8 325.3,233.8 323.8,240.0 C322.2,246.2 320.1,251.8 318.0,257.0 C315.9,262.2 314.0,267.0 311.0,271.0 C308.0,275.0 303.8,278.3 300.0,281.0 C296.2,283.7 292.2,285.7 288.0,287.3 C283.8,288.9 278.8,290.2 274.5,290.5 C270.2,290.8 266.6,290.2 262.5,288.8 C258.4,287.4 253.4,284.1 250.0,282.3 C246.6,280.6 244.5,279.5 242.0,278.3 C239.5,277.1 238.4,276.8 235.0,275.0 C231.6,273.2 226.1,270.1 221.7,267.5 C217.2,264.9 212.2,262.0 208.3,259.2 C204.4,256.4 200.9,253.8 198.3,250.8 C195.7,247.8 193.5,242.8 192.5,241.2 Z" fill="none" stroke="#3a3a3a" stroke-width="0.8" stroke-linejoin="round" stroke-linecap="round" />
<path d="M202.5,242.5 C204.2,244.0 209.2,249.7 212.5,251.2 C215.8,252.8 218.8,252.8 222.5,252.0 C226.2,251.2 230.8,249.1 235.0,246.2 C239.2,243.4 243.8,239.2 247.5,235.0 C251.2,230.8 254.8,226.5 257.5,221.2 C260.2,216.0 262.4,209.4 263.8,203.8 C265.1,198.1 265.4,192.6 265.5,187.5 C265.6,182.4 264.7,175.4 264.5,173.0 L273.8,173.8 C274.4,176.0 275.6,183.1 277.5,187.5 C279.4,191.9 282.1,196.9 285.0,200.0 C287.9,203.1 291.2,205.2 295.0,206.2 C298.8,207.3 303.8,206.9 307.5,206.2 C311.2,205.6 315.8,203.1 317.5,202.5 L327.0,205.0 C327.1,207.5 328.0,214.2 327.5,220.0 C327.0,225.8 325.3,233.8 323.8,240.0 C322.2,246.2 320.1,251.8 318.0,257.0 C315.9,262.2 314.0,267.1 311.0,271.0 C308.0,274.9 303.8,277.9 300.0,280.5 C296.2,283.1 292.2,284.9 288.0,286.3 C283.8,287.7 278.7,288.9 274.5,289.0 C270.3,289.1 266.5,288.2 263.0,287.0 C259.5,285.8 255.9,283.5 253.5,281.5 C251.1,279.5 249.3,276.1 248.5,275.0 L246.2,267.0 L237.0,267.0 C234.6,266.3 226.9,264.9 222.5,262.8 C218.1,260.7 213.8,257.9 210.5,254.5 C207.2,251.1 203.8,244.5 202.5,242.5 Z M265.5,236.2 C267.9,237.5 275.1,241.3 280.0,244.0 C284.9,246.7 292.8,250.3 295.2,252.3 C297.6,254.3 295.2,254.5 294.5,256.0 C293.8,257.5 292.6,259.4 291.0,261.5 C289.4,263.6 287.2,266.3 285.0,268.5 C282.8,270.7 280.0,272.9 277.5,274.5 C275.0,276.1 272.5,277.3 270.0,278.2 C267.5,279.1 265.0,279.7 262.5,279.7 C260.0,279.7 257.0,279.0 255.0,278.2 C253.0,277.4 251.9,276.8 250.5,275.0 C249.1,273.2 247.6,270.6 246.5,267.5 C245.4,264.4 243.0,260.0 244.0,256.5 C245.0,253.0 251.1,248.0 252.5,246.2 Z" fill="url(#g33)" stroke="none" stroke-width="0" stroke-linejoin="round" stroke-linecap="round" fill-rule="evenodd"/>
<path d="M202.5,242.5 C204.2,244.0 209.2,249.7 212.5,251.2 C215.8,252.8 218.8,252.8 222.5,252.0 C226.2,251.2 230.8,249.1 235.0,246.2 C239.2,243.4 245.4,236.9 247.5,235.0 L265.5,236.2 L252.5,246.2 L243.8,256.2 L237.0,267.0 C234.6,266.3 226.9,264.9 222.5,262.8 C218.1,260.7 213.8,257.9 210.5,254.5 C207.2,251.1 203.8,244.5 202.5,242.5 Z" fill="url(#g34)" stroke="none" stroke-width="0" stroke-linejoin="round" stroke-linecap="round" />
<path d="M247.5,235.0 C249.2,232.7 254.8,226.5 257.5,221.2 C260.2,216.0 262.4,209.4 263.8,203.8 C265.1,198.1 265.4,192.6 265.5,187.5 C265.6,182.4 264.7,175.4 264.5,173.0 L273.8,173.8 L273.7,175.0 L275.9,189.5 L275.4,205.8 L270.3,223.2 L261.5,237.0 Z" fill="url(#sh35)" stroke="none" stroke-width="0" stroke-linejoin="round" stroke-linecap="round" />
<path d="M202.5,242.5 C204.2,244.0 209.2,249.7 212.5,251.2 C215.8,252.8 218.8,252.8 222.5,252.0 C226.2,251.2 230.8,249.1 235.0,246.2 C239.2,243.4 243.8,239.2 247.5,235.0 C251.2,230.8 254.8,226.5 257.5,221.2 C260.2,216.0 262.4,209.4 263.8,203.8 C265.1,198.1 265.4,192.6 265.5,187.5 C265.6,182.4 264.7,175.4 264.5,173.0 L273.8,173.8 C274.4,176.0 275.6,183.1 277.5,187.5 C279.4,191.9 282.1,196.9 285.0,200.0 C287.9,203.1 291.2,205.2 295.0,206.2 C298.8,207.3 303.8,206.9 307.5,206.2 C311.2,205.6 315.8,203.1 317.5,202.5 L327.0,205.0 C327.1,207.5 328.0,214.2 327.5,220.0 C327.0,225.8 325.3,233.8 323.8,240.0 C322.2,246.2 320.1,251.8 318.0,257.0 C315.9,262.2 314.0,267.1 311.0,271.0 C308.0,274.9 303.8,277.9 300.0,280.5 C296.2,283.1 292.2,284.9 288.0,286.3 C283.8,287.7 278.7,288.9 274.5,289.0 C270.3,289.1 266.5,288.2 263.0,287.0 C259.5,285.8 255.9,283.5 253.5,281.5 C251.1,279.5 249.3,276.1 248.5,275.0 L246.2,267.0 L237.0,267.0 C234.6,266.3 226.9,264.9 222.5,262.8 C218.1,260.7 213.8,257.9 210.5,254.5 C207.2,251.1 203.8,244.5 202.5,242.5 Z" fill="none" stroke="#3a3a3a" stroke-width="0.8" stroke-linejoin="round" stroke-linecap="round" />
<path d="M265.5,236.2 C267.9,237.5 275.1,241.3 280.0,244.0 C284.9,246.7 292.8,250.3 295.2,252.3 C297.6,254.3 295.2,254.5 294.5,256.0 C293.8,257.5 292.6,259.4 291.0,261.5 C289.4,263.6 287.2,266.3 285.0,268.5 C282.8,270.7 280.0,272.9 277.5,274.5 C275.0,276.1 272.5,277.3 270.0,278.2 C267.5,279.1 265.0,279.7 262.5,279.7 C260.0,279.7 257.0,279.0 255.0,278.2 C253.0,277.4 251.9,276.8 250.5,275.0 C249.1,273.2 247.6,270.6 246.5,267.5 C245.4,264.4 243.0,260.0 244.0,256.5 C245.0,253.0 251.1,248.0 252.5,246.2 Z" fill="none" stroke="#3a3a3a" stroke-width="0.7" stroke-linejoin="round" stroke-linecap="round" />
<path d="M266.5,236.0 L296.0,251.5 L294.3,254.7 L264.8,239.2 Z" fill="url(#g36)" stroke="#555" stroke-width="0.5" stroke-linejoin="round" stroke-linecap="round" />
<path d="M190.5,235.0 Q190.5,232.5 193.0,232.2 L197.5,230.4 Q200.0,230.8 200.0,233.2 L202.5,242.5 L192.5,241.2 Z" fill="url(#g37)" stroke="#3a3a3a" stroke-width="0.7" stroke-linejoin="round" stroke-linecap="round" />
<path d="M262.5,167.0 Q262.5,164.5 265.0,164.2 L270.5,165.9 Q273.0,166.2 273.0,168.8 L273.8,173.8 L264.5,173.0 Z" fill="url(#g38)" stroke="#3a3a3a" stroke-width="0.7" stroke-linejoin="round" stroke-linecap="round" />
<path d="M316.2,197.0 Q316.2,194.5 318.8,194.2 L324.5,197.2 Q327.0,197.5 327.0,200.0 L327.0,205.0 L317.5,202.5 Z" fill="url(#g39)" stroke="#3a3a3a" stroke-width="0.7" stroke-linejoin="round" stroke-linecap="round" />
<path d="M234.5,259.5 Q234.5,257.0 237.0,256.7 L241.2,255.9 Q243.8,256.2 243.8,258.8 L246.2,267.0 L237.0,267.0 Z" fill="url(#g40)" stroke="#3a3a3a" stroke-width="0.7" stroke-linejoin="round" stroke-linecap="round" />
<path d="M220.8,266.7 L246.7,281.7 L241.7,290 L235,300 L228,297 L220,290.5 Z" fill="url(#g41)" stroke="#3a3a3a" stroke-width="0.8" stroke-linejoin="round" stroke-linecap="round" />
<path d="M218.3,286 L222,283.5 L227.5,285 L230,289.5 L229,295 L224.5,297 L220,295 L218,291 Z" fill="url(#g42)" stroke="#3a3a3a" stroke-width="0.7" stroke-linejoin="round" stroke-linecap="round" />
<ellipse cx="216.6" cy="287.5" rx="2.6" ry="3.0" transform="rotate(0.0 216.6 287.5)" fill="#dedede" stroke="#3a3a3a" stroke-width="0.6"/>
<path d="M216.6,284.6 L221,285.7 L221,290.5 L216.6,290.4 Z" fill="#c4c4c4" stroke="none" stroke-width="0" stroke-linejoin="round" stroke-linecap="round" />
<ellipse cx="216.3" cy="287.5" rx="2.5" ry="2.9" transform="rotate(0.0 216.3 287.5)" fill="#e4e4e4" stroke="#3a3a3a" stroke-width="0.6"/>
<g transform="translate(179.5 196.0) rotate(-27.41)">
<ellipse cx="-2.5" cy="1" rx="7" ry="3.6" fill="none" stroke="#5c5c5c" stroke-width="1.6"/>
<ellipse cx="-2.5" cy="1" rx="7" ry="3.6" fill="none" stroke="#d0d0d0" stroke-width="0.6"/>
<path d="M106.4,-2 q4,-4 8,-2.5 q3.5,2 1.5,6.5" fill="none" stroke="#5c5c5c" stroke-width="1.5" stroke-linecap="round"/>
<path d="M106.4,-2 q4,-4 8,-2.5 q3.5,2 1.5,6.5" fill="none" stroke="#d4d4d4" stroke-width="0.5" stroke-linecap="round"/>
<rect x="0" y="-6.5" width="106.4" height="13.0" rx="1.5" fill="url(#g44)" stroke="#555" stroke-width="0.5"/>
</g>
<polygon points="182.5,201.8 277.0,152.8 271.0,141.2 176.5,190.2" fill="url(#sp43)"/>
<ellipse cx="180.8" cy="195.3" rx="1.8" ry="5.3" transform="rotate(-27.4 180.8 195.3)" fill="#9a9a9a" stroke="#444" stroke-width="0.6"/>
<g transform="translate(231.0 226.3) rotate(-27.90)">
<ellipse cx="-2.5" cy="1" rx="7" ry="3.6" fill="none" stroke="#5c5c5c" stroke-width="1.6"/>
<ellipse cx="-2.5" cy="1" rx="7" ry="3.6" fill="none" stroke="#d0d0d0" stroke-width="0.6"/>
<path d="M109.2,-2 q4,-4 8,-2.5 q3.5,2 1.5,6.5" fill="none" stroke="#5c5c5c" stroke-width="1.5" stroke-linecap="round"/>
<path d="M109.2,-2 q4,-4 8,-2.5 q3.5,2 1.5,6.5" fill="none" stroke="#d4d4d4" stroke-width="0.5" stroke-linecap="round"/>
<rect x="0" y="-6.6" width="109.2" height="13.2" rx="1.5" fill="url(#g46)" stroke="#555" stroke-width="0.5"/>
</g>
<polygon points="234.1,232.1 330.6,181.0 324.4,169.4 227.9,220.5" fill="url(#sp45)"/>
<ellipse cx="232.3" cy="225.6" rx="1.8" ry="5.4" transform="rotate(-27.9 232.3 225.6)" fill="#9a9a9a" stroke="#444" stroke-width="0.6"/>
<path d="M390.5,199 L421,213.5 L419,218 Q407,231 398,237 Q390,240 386.3,235 Q384.5,231 386,224 Z" fill="url(#g47)" stroke="#3a3a3a" stroke-width="0.8" stroke-linejoin="round" stroke-linecap="round" />
<ellipse cx="395.4" cy="227.2" rx="2.7" ry="2.4" transform="rotate(-20.0 395.4 227.2)" fill="#fdfdfd" stroke="#3a3a3a" stroke-width="0.7"/>
<path d="M460,221 L468,217 L471,219 L470.5,227 L463,234 L459,232 Z" fill="#1d1d1d" stroke="#000" stroke-width="0.5" stroke-linejoin="round" stroke-linecap="round" />
<path d="M441,241.5 L451.5,226.5 L458,231 L447.5,246.5 Z" fill="url(#g48)" stroke="#3a3a3a" stroke-width="0.7" stroke-linejoin="round" stroke-linecap="round" />
<ellipse cx="444.2" cy="244.0" rx="3.6" ry="2.8" transform="rotate(-35.0 444.2 244.0)" fill="#e8e8e8" stroke="#3a3a3a" stroke-width="0.6"/>
<path d="M384.7,241.5 L392,245 L390.5,252 L383.5,248.5 Z" fill="#cfcfcf" stroke="#3a3a3a" stroke-width="0.6" stroke-linejoin="round" stroke-linecap="round" />
<ellipse cx="385.6" cy="244.6" rx="2.4" ry="3.2" transform="rotate(-20.0 385.6 244.6)" fill="#ececec" stroke="#3a3a3a" stroke-width="0.6"/>
<polygon points="397.3,240.6 412.3,246.3 404.7,266.1 389.7,260.4" fill="url(#g49)" stroke="none"/>
<line x1="397.3" y1="240.6" x2="412.3" y2="246.3" stroke="#0a0a0a" stroke-width="0.6"/>
<line x1="389.7" y1="260.4" x2="404.7" y2="266.1" stroke="#0a0a0a" stroke-width="0.6"/>
<polygon points="412.3,246.3 412.9,246.6 413.5,247.1 413.9,247.8 414.3,248.6 414.6,249.5 414.8,250.6 414.9,251.7 414.8,252.9 414.7,254.2 414.4,255.5 414.1,256.8 413.6,258.2 413.1,259.4 412.5,260.7 411.8,261.8 411.1,262.8 410.3,263.8 409.5,264.6 408.6,265.3 407.8,265.8 407.0,266.1 406.2,266.3 405.4,266.3 404.7,266.1 403.6,265.7 411.1,245.9" fill="url(#g49)" stroke="none"/>
<polyline points="412.3,246.3 412.9,246.6 413.5,247.1 413.9,247.8 414.3,248.6 414.6,249.5 414.8,250.6 414.9,251.7 414.8,252.9 414.7,254.2 414.4,255.5 414.1,256.8 413.6,258.2 413.1,259.4 412.5,260.7 411.8,261.8 411.1,262.8 410.3,263.8 409.5,264.6 408.6,265.3 407.8,265.8 407.0,266.1 406.2,266.3 405.4,266.3 404.7,266.1" fill="none" stroke="#0a0a0a" stroke-width="0.6"/>
<ellipse cx="393.5" cy="250.5" rx="5.6" ry="10.6" transform="rotate(20.8 393.5 250.5)" fill="url(#g50)" stroke="#0a0a0a" stroke-width="0.6"/>
<path d="M403.5,243.8 Q399.5,253 398.5,264.5" fill="none" stroke="#0c0c0c" stroke-width="1.6" stroke-linejoin="round" stroke-linecap="round" />
<ellipse cx="416.2" cy="260.2" rx="2.3" ry="2.8" transform="rotate(-20.0 416.2 260.2)" fill="#a5a5a5" stroke="#3a3a3a" stroke-width="0.6"/>
<ellipse cx="374.5" cy="216.0" rx="8.6" ry="7.0" transform="rotate(15.0 374.5 216.0)" fill="url(#g51)" stroke="#3a3a3a" stroke-width="0.7"/>
<path d="M368,211.5 L372,207.8 L378,208.5 L381,213 L379,218.5 L373,219.5 L368.5,216.5 Z" fill="url(#g52)" stroke="#222" stroke-width="0.6" stroke-linejoin="round" stroke-linecap="round" />
<ellipse cx="374.0" cy="212.5" rx="3.6" ry="3.0" transform="rotate(0.0 374.0 212.5)" fill="#8a8a8a" stroke="#222" stroke-width="0.5"/>
<ellipse cx="374.0" cy="212.5" rx="2.0" ry="1.7" transform="rotate(0.0 374.0 212.5)" fill="#3a3a3a" stroke="#111" stroke-width="0.4"/>
<path d="M362.5,177.5 L372.5,178.8 C374.6,179.9 381.7,184.4 385.0,185.5 C388.3,186.6 389.2,186.5 392.5,185.5 C395.8,184.5 400.8,182.4 405.0,179.5 C409.2,176.6 413.8,172.3 417.5,168.0 C421.2,163.7 424.8,158.8 427.5,153.8 C430.2,148.7 432.4,142.7 433.8,137.5 C435.1,132.3 435.4,127.2 435.5,122.5 C435.6,117.8 434.7,111.5 434.5,109.2 L443.8,110.0 C444.4,112.3 445.6,119.4 447.5,123.8 C449.4,128.1 452.1,133.1 455.0,136.2 C457.9,139.4 461.2,141.5 465.0,142.5 C468.8,143.5 473.8,143.1 477.5,142.5 C481.2,141.9 485.8,139.4 487.5,138.8 L497.0,141.2 C497.1,143.8 498.0,150.6 497.5,156.2 C497.0,161.9 495.8,168.8 493.8,175.0 C491.7,181.2 488.1,188.6 485.0,193.8 C481.9,198.9 478.9,202.2 475.0,206.0 C471.1,209.8 465.9,213.9 461.7,216.5 C457.5,219.1 454.2,220.8 450.0,221.7 C445.8,222.6 440.9,222.8 436.7,222.2 C432.5,221.6 428.8,219.9 425.0,218.3 C421.2,216.7 417.3,214.2 414.0,212.5 C410.7,210.8 408.7,209.7 405.0,207.8 C401.3,205.9 396.1,203.4 391.7,201.0 C387.2,198.6 382.2,196.0 378.3,193.5 C374.4,191.0 370.9,188.7 368.3,186.0 C365.7,183.3 363.5,178.9 362.5,177.5 Z M435.8,170.8 C438.2,172.2 445.0,176.1 450.0,179.0 C455.0,181.9 463.2,186.1 465.8,188.3 C468.4,190.5 466.8,190.1 465.8,192.0 C464.8,193.9 462.4,197.3 460.0,200.0 C457.6,202.7 454.8,206.1 451.7,208.3 C448.6,210.5 444.8,212.3 441.7,213.3 C438.6,214.3 436.1,214.6 433.3,214.2 C430.5,213.8 427.2,212.3 425.0,210.8 C422.8,209.3 421.4,206.8 420.0,205.0 C418.6,203.2 417.4,202.2 416.5,200.0 C415.6,197.8 414.2,194.6 414.5,192.0 C414.8,189.4 416.2,186.8 418.0,184.5 C419.8,182.2 423.8,179.3 425.0,178.3 Z" fill="url(#g53)" stroke="none" stroke-width="0" stroke-linejoin="round" stroke-linecap="round" fill-rule="evenodd"/>
<path d="M362.5,177.5 L372.5,178.8 C374.6,179.9 381.7,184.4 385.0,185.5 C388.3,186.6 389.2,186.5 392.5,185.5 C395.8,184.5 400.8,182.4 405.0,179.5 C409.2,176.6 413.8,172.3 417.5,168.0 C421.2,163.7 424.8,158.8 427.5,153.8 C430.2,148.7 432.4,142.7 433.8,137.5 C435.1,132.3 435.4,127.2 435.5,122.5 C435.6,117.8 434.7,111.5 434.5,109.2 L443.8,110.0 C444.4,112.3 445.6,119.4 447.5,123.8 C449.4,128.1 452.1,133.1 455.0,136.2 C457.9,139.4 461.2,141.5 465.0,142.5 C468.8,143.5 473.8,143.1 477.5,142.5 C481.2,141.9 485.8,139.4 487.5,138.8 L497.0,141.2 C497.1,143.8 498.0,150.6 497.5,156.2 C497.0,161.9 495.8,168.8 493.8,175.0 C491.7,181.2 488.1,188.6 485.0,193.8 C481.9,198.9 478.9,202.2 475.0,206.0 C471.1,209.8 465.9,213.9 461.7,216.5 C457.5,219.1 454.2,220.8 450.0,221.7 C445.8,222.6 440.9,222.8 436.7,222.2 C432.5,221.6 428.8,219.9 425.0,218.3 C421.2,216.7 417.3,214.2 414.0,212.5 C410.7,210.8 408.7,209.7 405.0,207.8 C401.3,205.9 396.1,203.4 391.7,201.0 C387.2,198.6 382.2,196.0 378.3,193.5 C374.4,191.0 370.9,188.7 368.3,186.0 C365.7,183.3 363.5,178.9 362.5,177.5 Z" fill="none" stroke="#3a3a3a" stroke-width="0.8" stroke-linejoin="round" stroke-linecap="round" />
<path d="M372.5,178.8 C374.6,179.9 381.7,184.4 385.0,185.5 C388.3,186.6 389.2,186.5 392.5,185.5 C395.8,184.5 400.8,182.4 405.0,179.5 C409.2,176.6 413.8,172.3 417.5,168.0 C421.2,163.7 424.8,158.8 427.5,153.8 C430.2,148.7 432.4,142.7 433.8,137.5 C435.1,132.3 435.4,127.2 435.5,122.5 C435.6,117.8 434.7,111.5 434.5,109.2 L443.8,110.0 C444.4,112.3 445.6,119.4 447.5,123.8 C449.4,128.1 452.1,133.1 455.0,136.2 C457.9,139.4 461.2,141.5 465.0,142.5 C468.8,143.5 473.8,143.1 477.5,142.5 C481.2,141.9 485.8,139.4 487.5,138.8 L497.0,141.2 C497.1,143.8 498.0,150.6 497.5,156.2 C497.0,161.9 495.8,168.8 493.8,175.0 C491.7,181.2 488.1,188.6 485.0,193.8 C481.9,198.9 478.9,202.5 475.0,206.0 C471.1,209.5 465.9,212.7 461.7,215.0 C457.5,217.3 454.1,219.0 450.0,219.8 C445.9,220.6 440.8,220.6 437.0,220.0 C433.2,219.4 429.9,217.8 427.0,216.0 C424.1,214.2 420.8,210.2 419.5,209.0 L416.2,202.0 L407.0,202.0 C405.0,201.6 399.1,201.3 395.0,199.5 C390.9,197.7 386.2,194.7 382.5,191.2 C378.8,187.8 374.2,180.8 372.5,178.8 Z M435.8,170.8 C438.2,172.2 445.0,176.1 450.0,179.0 C455.0,181.9 463.2,186.1 465.8,188.3 C468.4,190.5 466.8,190.1 465.8,192.0 C464.8,193.9 462.4,197.3 460.0,200.0 C457.6,202.7 454.8,206.1 451.7,208.3 C448.6,210.5 444.8,212.3 441.7,213.3 C438.6,214.3 436.1,214.6 433.3,214.2 C430.5,213.8 427.2,212.3 425.0,210.8 C422.8,209.3 421.4,206.8 420.0,205.0 C418.6,203.2 417.4,202.2 416.5,200.0 C415.6,197.8 414.2,194.6 414.5,192.0 C414.8,189.4 416.2,186.8 418.0,184.5 C419.8,182.2 423.8,179.3 425.0,178.3 Z" fill="url(#g54)" stroke="none" stroke-width="0" stroke-linejoin="round" stroke-linecap="round" fill-rule="evenodd"/>
<path d="M372.5,178.8 C374.6,179.9 381.7,184.4 385.0,185.5 C388.3,186.6 389.2,186.5 392.5,185.5 C395.8,184.5 400.8,182.4 405.0,179.5 C409.2,176.6 415.4,169.9 417.5,168.0 L435.8,170.8 L425.0,178.3 L413.8,191.2 L407.0,202.0 C405.0,201.6 399.1,201.3 395.0,199.5 C390.9,197.7 386.2,194.7 382.5,191.2 C378.8,187.8 374.2,180.8 372.5,178.8 Z" fill="url(#g55)" stroke="none" stroke-width="0" stroke-linejoin="round" stroke-linecap="round" />
<path d="M417.5,168.0 C419.2,165.6 424.8,158.8 427.5,153.8 C430.2,148.7 432.4,142.7 433.8,137.5 C435.1,132.3 435.4,127.2 435.5,122.5 C435.6,117.8 434.7,111.5 434.5,109.2 L443.8,110.0 L443.7,111.2 L445.9,124.5 L445.4,139.5 L440.3,155.8 L431.5,170.0 Z" fill="url(#sh56)" stroke="none" stroke-width="0" stroke-linejoin="round" stroke-linecap="round" />
<path d="M372.5,178.8 C374.6,179.9 381.7,184.4 385.0,185.5 C388.3,186.6 389.2,186.5 392.5,185.5 C395.8,184.5 400.8,182.4 405.0,179.5 C409.2,176.6 413.8,172.3 417.5,168.0 C421.2,163.7 424.8,158.8 427.5,153.8 C430.2,148.7 432.4,142.7 433.8,137.5 C435.1,132.3 435.4,127.2 435.5,122.5 C435.6,117.8 434.7,111.5 434.5,109.2 L443.8,110.0 C444.4,112.3 445.6,119.4 447.5,123.8 C449.4,128.1 452.1,133.1 455.0,136.2 C457.9,139.4 461.2,141.5 465.0,142.5 C468.8,143.5 473.8,143.1 477.5,142.5 C481.2,141.9 485.8,139.4 487.5,138.8 L497.0,141.2 C497.1,143.8 498.0,150.6 497.5,156.2 C497.0,161.9 495.8,168.8 493.8,175.0 C491.7,181.2 488.1,188.6 485.0,193.8 C481.9,198.9 478.9,202.5 475.0,206.0 C471.1,209.5 465.9,212.7 461.7,215.0 C457.5,217.3 454.1,219.0 450.0,219.8 C445.9,220.6 440.8,220.6 437.0,220.0 C433.2,219.4 429.9,217.8 427.0,216.0 C424.1,214.2 420.8,210.2 419.5,209.0 L416.2,202.0 L407.0,202.0 C405.0,201.6 399.1,201.3 395.0,199.5 C390.9,197.7 386.2,194.7 382.5,191.2 C378.8,187.8 374.2,180.8 372.5,178.8 Z" fill="none" stroke="#3a3a3a" stroke-width="0.8" stroke-linejoin="round" stroke-linecap="round" />
<path d="M435.8,170.8 C438.2,172.2 445.0,176.1 450.0,179.0 C455.0,181.9 463.2,186.1 465.8,188.3 C468.4,190.5 466.8,190.1 465.8,192.0 C464.8,193.9 462.4,197.3 460.0,200.0 C457.6,202.7 454.8,206.1 451.7,208.3 C448.6,210.5 444.8,212.3 441.7,213.3 C438.6,214.3 436.1,214.6 433.3,214.2 C430.5,213.8 427.2,212.3 425.0,210.8 C422.8,209.3 421.4,206.8 420.0,205.0 C418.6,203.2 417.4,202.2 416.5,200.0 C415.6,197.8 414.2,194.6 414.5,192.0 C414.8,189.4 416.2,186.8 418.0,184.5 C419.8,182.2 423.8,179.3 425.0,178.3 Z" fill="none" stroke="#3a3a3a" stroke-width="0.7" stroke-linejoin="round" stroke-linecap="round" />
<path d="M436.8,170.5 L466.3,187.5 L464.5,190.6 L435.0,173.6 Z" fill="url(#g57)" stroke="#555" stroke-width="0.5" stroke-linejoin="round" stroke-linecap="round" />
<path d="M360.5,170.0 Q360.5,167.5 363.0,167.2 L368.0,165.9 Q370.5,166.2 370.5,168.8 L372.5,178.8 L362.5,177.5 Z" fill="url(#g58)" stroke="#3a3a3a" stroke-width="0.7" stroke-linejoin="round" stroke-linecap="round" />
<path d="M432.5,103.0 Q432.5,100.5 435.0,100.2 L440.5,102.2 Q443.0,102.5 443.0,105.0 L443.8,110.0 L434.5,109.2 Z" fill="url(#g59)" stroke="#3a3a3a" stroke-width="0.7" stroke-linejoin="round" stroke-linecap="round" />
<path d="M486.2,133.0 Q486.2,130.5 488.8,130.2 L494.5,133.4 Q497.0,133.8 497.0,136.2 L497.0,141.2 L487.5,138.8 Z" fill="url(#g60)" stroke="#3a3a3a" stroke-width="0.7" stroke-linejoin="round" stroke-linecap="round" />
<path d="M404.5,194.5 Q404.5,192.0 407.0,191.7 L411.2,190.9 Q413.8,191.2 413.8,193.8 L416.2,202.0 L407.0,202.0 Z" fill="url(#g61)" stroke="#3a3a3a" stroke-width="0.7" stroke-linejoin="round" stroke-linecap="round" />
<g transform="translate(356.5 119.4) rotate(-28.58)">
<ellipse cx="-2.5" cy="1" rx="7" ry="3.6" fill="none" stroke="#5c5c5c" stroke-width="1.6"/>
<ellipse cx="-2.5" cy="1" rx="7" ry="3.6" fill="none" stroke="#d0d0d0" stroke-width="0.6"/>
<path d="M105.3,-2 q4,-4 8,-2.5 q3.5,2 1.5,6.5" fill="none" stroke="#5c5c5c" stroke-width="1.5" stroke-linecap="round"/>
<path d="M105.3,-2 q4,-4 8,-2.5 q3.5,2 1.5,6.5" fill="none" stroke="#d4d4d4" stroke-width="0.5" stroke-linecap="round"/>
<rect x="0" y="-5.7" width="105.3" height="11.4" rx="1.5" fill="url(#g63)" stroke="#555" stroke-width="0.5"/>
</g>
<polygon points="359.2,124.4 451.7,74.0 446.3,64.0 353.8,114.4" fill="url(#sp62)"/>
<ellipse cx="357.8" cy="118.7" rx="1.8" ry="4.5" transform="rotate(-28.6 357.8 118.7)" fill="#9a9a9a" stroke="#444" stroke-width="0.6"/>
<g transform="translate(412.0 145.5) rotate(-28.52)">
<ellipse cx="-2.5" cy="1" rx="7" ry="3.6" fill="none" stroke="#5c5c5c" stroke-width="1.6"/>
<ellipse cx="-2.5" cy="1" rx="7" ry="3.6" fill="none" stroke="#d0d0d0" stroke-width="0.6"/>
<path d="M104.7,-2 q4,-4 8,-2.5 q3.5,2 1.5,6.5" fill="none" stroke="#5c5c5c" stroke-width="1.5" stroke-linecap="round"/>
<path d="M104.7,-2 q4,-4 8,-2.5 q3.5,2 1.5,6.5" fill="none" stroke="#d4d4d4" stroke-width="0.5" stroke-linecap="round"/>
<rect x="0" y="-6.2" width="104.7" height="12.4" rx="1.5" fill="url(#g65)" stroke="#555" stroke-width="0.5"/>
</g>
<polygon points="415.0,150.9 507.0,100.9 501.0,90.1 409.0,140.1" fill="url(#sp64)"/>
<ellipse cx="413.3" cy="144.8" rx="1.8" ry="5.0" transform="rotate(-28.5 413.3 144.8)" fill="#9a9a9a" stroke="#444" stroke-width="0.6"/>
<polygon points="436.1,466.6 481.8,486.8 471.6,509.8 425.9,490.0" fill="url(#g66)" stroke="none"/>
<line x1="436.1" y1="466.6" x2="481.8" y2="486.8" stroke="#3a3a3a" stroke-width="0.8"/>
<line x1="425.9" y1="490.0" x2="471.6" y2="509.8" stroke="#3a3a3a" stroke-width="0.8"/>
<ellipse cx="476.7" cy="498.3" rx="6.8" ry="12.6" transform="rotate(24.0 476.7 498.3)" fill="url(#g67)" stroke="#3a3a3a" stroke-width="0.8"/>
<ellipse cx="477.0" cy="498.5" rx="4.3" ry="8.4" transform="rotate(24.0 477.0 498.5)" fill="url(#g68)" stroke="#444" stroke-width="0.6"/>
<path d="M340.7,541 L363.5,527.6 L363.5,633.4 L340.7,622.7 Z" fill="url(#g69)" stroke="#3a3a3a" stroke-width="0.8" stroke-linejoin="round" stroke-linecap="round" />
<path d="M340.9,541 L340.9,622.5" fill="none" stroke="#dcdcdc" stroke-width="1.2" stroke-linejoin="round" stroke-linecap="round" />
<rect x="346.6" y="566.5" width="6.6" height="13" rx="3.3" fill="#5d5d5d" stroke="#3a3a3a" stroke-width="0.7"/>
<rect x="348.6" y="568.6" width="4.4" height="10" rx="2.2" fill="#e6e6e6" stroke="none"/>
<rect x="346.6" y="594.5" width="6.6" height="13" rx="3.3" fill="#5d5d5d" stroke="#3a3a3a" stroke-width="0.7"/>
<rect x="348.6" y="596.6" width="4.4" height="10" rx="2.2" fill="#e6e6e6" stroke="none"/>
<path d="M363.5,527.6 L382,517 L385.7,519.6 L385.7,563.8 Q386.5,573 394,581 Q400,584.5 405,583.8 Q412,583 415.7,581 L415.7,542.3 L437,496.8 L447.9,487.4 L450.5,487 L469.3,498 L469.8,576 L465,583.3 L363.5,635 Z" fill="url(#g70)" stroke="#3a3a3a" stroke-width="0.8" stroke-linejoin="round" stroke-linecap="round" />
<path d="M363.8,529 L363.8,633" fill="none" stroke="#d4d4d4" stroke-width="1.2" stroke-linejoin="round" stroke-linecap="round" />
<path d="M415.7,542.3 L437,496.8 L447.9,487.4 L448.5,560 L415.7,578 Z" fill="url(#g71)" stroke="none" stroke-width="0" stroke-linejoin="round" stroke-linecap="round" />
<path d="M415.7,581 L415.7,542.3 L437,496.8 L447.9,487.4" fill="none" stroke="#cfcfcf" stroke-width="1.3" stroke-linejoin="round" stroke-linecap="round" />
<path d="M451.5,507 Q450,535 438,558 Q430,572 420,577" fill="none" stroke="#c9c9c9" stroke-width="1.2" stroke-linejoin="round" stroke-linecap="round" />
<path d="M447.9,487.4 L450.5,487 L469.3,498 L469.3,500.8 L452.5,510 Q449.5,500 447.9,487.4 Z" fill="#b2b2b2" stroke="#444" stroke-width="0.6" stroke-linejoin="round" stroke-linecap="round" />
<path d="M452.5,510 L469.3,500.8 L469.8,576 L465,583.3 L452.5,589.5 Z" fill="url(#g72)" stroke="#3a3a3a" stroke-width="0.6" stroke-linejoin="round" stroke-linecap="round" />
<path d="M469.5,498 L469.9,576" fill="none" stroke="#444" stroke-width="1" stroke-linejoin="round" stroke-linecap="round" />
<ellipse cx="375.6" cy="531.0" rx="2.3" ry="2.6" transform="rotate(0.0 375.6 531.0)" fill="#ececec" stroke="#3a3a3a" stroke-width="0.6"/>
<ellipse cx="375.6" cy="536.6" rx="2.3" ry="2.6" transform="rotate(0.0 375.6 536.6)" fill="#ececec" stroke="#3a3a3a" stroke-width="0.6"/>
<ellipse cx="375.6" cy="542.2" rx="2.3" ry="2.6" transform="rotate(0.0 375.6 542.2)" fill="#ececec" stroke="#3a3a3a" stroke-width="0.6"/>
<rect x="374.5" y="531.0" width="2.2" height="11.2" fill="#ececec"/>
<ellipse cx="373.0" cy="566.5" rx="2.3" ry="2.6" transform="rotate(0.0 373.0 566.5)" fill="#ececec" stroke="#3a3a3a" stroke-width="0.6"/>
<ellipse cx="373.0" cy="572.7" rx="2.3" ry="2.6" transform="rotate(0.0 373.0 572.7)" fill="#ececec" stroke="#3a3a3a" stroke-width="0.6"/>
<ellipse cx="373.0" cy="578.9" rx="2.3" ry="2.6" transform="rotate(0.0 373.0 578.9)" fill="#ececec" stroke="#3a3a3a" stroke-width="0.6"/>
<rect x="371.9" y="566.5" width="2.2" height="12.4" fill="#ececec"/>
<ellipse cx="373.0" cy="594.0" rx="2.3" ry="2.6" transform="rotate(0.0 373.0 594.0)" fill="#ececec" stroke="#3a3a3a" stroke-width="0.6"/>
<ellipse cx="373.0" cy="600.2" rx="2.3" ry="2.6" transform="rotate(0.0 373.0 600.2)" fill="#ececec" stroke="#3a3a3a" stroke-width="0.6"/>
<ellipse cx="373.0" cy="606.4" rx="2.3" ry="2.6" transform="rotate(0.0 373.0 606.4)" fill="#ececec" stroke="#3a3a3a" stroke-width="0.6"/>
<rect x="371.9" y="594.0" width="2.2" height="12.4" fill="#ececec"/>
<path d="M385.0,587.0 l5.0,-2.5 l0,11.0 l-5.0,2.5 Z" fill="#ececec" stroke="#3a3a3a" stroke-width="0.6" stroke-linejoin="round" stroke-linecap="round" />
<path d="M385.0,606.0 l5.0,-2.5 l0,11.0 l-5.0,2.5 Z" fill="#ececec" stroke="#3a3a3a" stroke-width="0.6" stroke-linejoin="round" stroke-linecap="round" />
<path d="M397.0,593.5 l7.5,-3.8 l0,8.0 l-7.5,3.8 Z" fill="#ececec" stroke="#3a3a3a" stroke-width="0.6" stroke-linejoin="round" stroke-linecap="round" />
<path d="M397.0,607.0 l7.5,-3.8 l0,9.0 l-7.5,3.8 Z" fill="#ececec" stroke="#3a3a3a" stroke-width="0.6" stroke-linejoin="round" stroke-linecap="round" />
<path d="M428.5,583.0 l7.5,-3.8 l0,9.5 l-7.5,3.8 Z" fill="#ececec" stroke="#3a3a3a" stroke-width="0.6" stroke-linejoin="round" stroke-linecap="round" />
<path d="M441.5,578.0 l7.0,-3.5 l0,9.5 l-7.0,3.5 Z" fill="#ececec" stroke="#3a3a3a" stroke-width="0.6" stroke-linejoin="round" stroke-linecap="round" />
<path d="M441.0,551.0 l5.5,-2.8 l0,17.0 l-5.5,2.8 Z" fill="#ececec" stroke="#3a3a3a" stroke-width="0.6" stroke-linejoin="round" stroke-linecap="round" />
<path d="M397,588 L407,583.5 L397.5,591.5 Z" fill="#ececec" stroke="#3a3a3a" stroke-width="0.5" stroke-linejoin="round" stroke-linecap="round" />
<path d="M428.5,578 L437,572 L437,575.5 Z" fill="#ececec" stroke="#3a3a3a" stroke-width="0.5" stroke-linejoin="round" stroke-linecap="round" />
<ellipse cx="439.3" cy="517.7" rx="3.1" ry="3.4" transform="rotate(0.0 439.3 517.7)" fill="#ececec" stroke="#3a3a3a" stroke-width="0.6"/>
<ellipse cx="439.3" cy="532.0" rx="3.1" ry="3.4" transform="rotate(0.0 439.3 532.0)" fill="#ececec" stroke="#3a3a3a" stroke-width="0.6"/>
<ellipse cx="439.3" cy="547.0" rx="3.1" ry="3.4" transform="rotate(0.0 439.3 547.0)" fill="#ececec" stroke="#3a3a3a" stroke-width="0.6"/>
<path d="M420,545.0 l7,-9 l0,8.5 l-7,9 Z" fill="#ececec" stroke="#3a3a3a" stroke-width="0.6" stroke-linejoin="round" stroke-linecap="round" />
<path d="M420,561.5 l7,-9 l0,8.5 l-7,9 Z" fill="#ececec" stroke="#3a3a3a" stroke-width="0.6" stroke-linejoin="round" stroke-linecap="round" />
<ellipse cx="462.0" cy="516.0" rx="2.0" ry="2.3" transform="rotate(0.0 462.0 516.0)" fill="#ececec" stroke="#3a3a3a" stroke-width="0.6"/>
<ellipse cx="462.0" cy="520.6" rx="2.0" ry="2.3" transform="rotate(0.0 462.0 520.6)" fill="#ececec" stroke="#3a3a3a" stroke-width="0.6"/>
<ellipse cx="462.0" cy="525.2" rx="2.0" ry="2.3" transform="rotate(0.0 462.0 525.2)" fill="#ececec" stroke="#3a3a3a" stroke-width="0.6"/>
<rect x="460.9" y="516.0" width="2.2" height="9.2" fill="#ececec"/>
<ellipse cx="462.0" cy="546.0" rx="2.0" ry="2.3" transform="rotate(0.0 462.0 546.0)" fill="#ececec" stroke="#3a3a3a" stroke-width="0.6"/>
<ellipse cx="462.0" cy="550.6" rx="2.0" ry="2.3" transform="rotate(0.0 462.0 550.6)" fill="#ececec" stroke="#3a3a3a" stroke-width="0.6"/>
<ellipse cx="462.0" cy="555.2" rx="2.0" ry="2.3" transform="rotate(0.0 462.0 555.2)" fill="#ececec" stroke="#3a3a3a" stroke-width="0.6"/>
<rect x="460.9" y="546.0" width="2.2" height="9.2" fill="#ececec"/>
<path d="M450.5,458.2 L463.0,460.8 L466.1,463.2 L466.5,467.0 L464.9,471.0 L460.5,475.1 L455.5,474.8 L448.0,467.0 Z" fill="#717171" stroke="#3a3a3a" stroke-width="0.8" stroke-linejoin="round" stroke-linecap="round" />
<path d="M416.8,479.5 L426.8,474.8 L433.0,472.0 L431.5,479.5 L430.8,489.5 L427.4,494.5 L421.1,497.0 L415.5,492.0 Z" fill="#6d6d6d" stroke="#3a3a3a" stroke-width="0.8" stroke-linejoin="round" stroke-linecap="round" />
<path d="M403.6,478.3 Q404,476 405.5,475.1 L414.3,473.3 Q417,476 416.8,479.5 L415.5,492 L410.5,490.8 Q405,488 404.2,485.8 Z" fill="url(#g73)" stroke="#3a3a3a" stroke-width="0.8" stroke-linejoin="round" stroke-linecap="round" />
<path d="M405.5,475.1 L421.1,464.5 L423.0,465.2 L428.0,467.0 L433.6,465.2 L435.5,460.8 L436.1,457.6 L445.5,450.1 L450.5,449.2 L459.2,453.9 L465.5,459.5 L466.1,463.2 L463.0,460.8 L450.5,458.2 L439.2,465.8 L433.0,472.0 L426.8,474.8 L416.8,479.5 L415.8,476.0 L414.2,473.2 Z" fill="url(#g74)" stroke="#3a3a3a" stroke-width="0.8" stroke-linejoin="round" stroke-linecap="round" />
<path d="M421.1,464.5 L423.0,465.2 L428.0,467.0 L433.6,465.2 L435.5,460.8 L436.1,457.6 L437.8,458.9 L437.0,463.2 L434.5,467.6 L428.6,469.8 L423.0,468.0 Z" fill="#5f5f5f" stroke="none" stroke-width="0" stroke-linejoin="round" stroke-linecap="round" />
<ellipse cx="423.6" cy="487.0" rx="2.4" ry="2.7" transform="rotate(0.0 423.6 487.0)" fill="#e6e6e6" stroke="#3a3a3a" stroke-width="0.7"/>
<ellipse cx="457.4" cy="467.6" rx="2.3" ry="2.6" transform="rotate(0.0 457.4 467.6)" fill="#e6e6e6" stroke="#3a3a3a" stroke-width="0.7"/>
<polygon points="410.5,438.2 436.7,451.3 434.0,456.7 407.8,443.5" fill="url(#g75)" stroke="none"/>
<line x1="410.5" y1="438.2" x2="436.7" y2="451.3" stroke="#3a3a3a" stroke-width="0.8"/>
<line x1="407.8" y1="443.5" x2="434.0" y2="456.7" stroke="#3a3a3a" stroke-width="0.8"/>
<polygon points="436.7,451.3 436.9,451.4 437.0,451.6 437.1,451.8 437.2,452.0 437.3,452.3 437.3,452.6 437.3,452.9 437.2,453.3 437.2,453.6 437.1,454.0 436.9,454.4 436.8,454.7 436.6,455.1 436.4,455.4 436.1,455.7 435.9,456.0 435.6,456.2 435.4,456.4 435.1,456.6 434.9,456.7 434.6,456.8 434.4,456.8 434.2,456.8 434.0,456.7 432.9,456.1 435.6,450.8" fill="url(#g75)" stroke="none"/>
<polyline points="436.7,451.3 436.9,451.4 437.0,451.6 437.1,451.8 437.2,452.0 437.3,452.3 437.3,452.6 437.3,452.9 437.2,453.3 437.2,453.6 437.1,454.0 436.9,454.4 436.8,454.7 436.6,455.1 436.4,455.4 436.1,455.7 435.9,456.0 435.6,456.2 435.4,456.4 435.1,456.6 434.9,456.7 434.6,456.8 434.4,456.8 434.2,456.8 434.0,456.7" fill="none" stroke="#3a3a3a" stroke-width="0.7"/>
<path d="M400.8,435.0 L407.5,437.5 L418.0,436.7 L418.0,447.5 L400.8,455.3 Z" fill="#7d7d7d" stroke="#3a3a3a" stroke-width="0.8" stroke-linejoin="round" stroke-linecap="round" />
<path d="M385.8,442.5 L387.5,437.5 L392.5,435.0 L398.3,436.7 L400.8,439.2 L400.8,455.3 L393.7,452.5 L388.7,454.7 L385.8,458.7 Z" fill="url(#g76)" stroke="#3a3a3a" stroke-width="0.7" stroke-linejoin="round" stroke-linecap="round" />
<path d="M370.0,457.5 L385.8,447.0 L385.8,458.7 L372.5,468.7 Z" fill="#6d6d6d" stroke="#3a3a3a" stroke-width="0.8" stroke-linejoin="round" stroke-linecap="round" />
<path d="M357.5,452.5 L357.5,461.7 Q359,465.5 361.7,467.5 Q366,470 370,470 L372.5,468.5 L370,457.5 Q365,457.5 362.5,453.7 Z" fill="url(#g77)" stroke="#3a3a3a" stroke-width="0.8" stroke-linejoin="round" stroke-linecap="round" />
<path d="M357.5,452.5 Q357.5,449 360,447.5 L391.7,428.7 Q395,426.3 400,425.8 Q405,425.8 410,427.2 Q415,429 417.5,431.7 Q418.6,434 418,436.7 L407.5,437.5 L400.8,435 L398.3,436.7 Q395,435 392.5,435 Q389,436 387.5,437.5 Q386,440 385.8,442.5 L385.8,447 L370,457.5 Q364,458 360,455.5 Q357.8,454 357.5,452.5 Z" fill="url(#g78)" stroke="#3a3a3a" stroke-width="0.8" stroke-linejoin="round" stroke-linecap="round" />
<polygon points="376.4,457.4 402.7,471.4 399.9,476.6 373.6,462.6" fill="url(#g79)" stroke="none"/>
<line x1="376.4" y1="457.4" x2="402.7" y2="471.4" stroke="#3a3a3a" stroke-width="0.8"/>
<line x1="373.6" y1="462.6" x2="399.9" y2="476.6" stroke="#3a3a3a" stroke-width="0.8"/>
<polygon points="402.7,471.4 402.9,471.5 403.1,471.6 403.2,471.8 403.3,472.1 403.3,472.4 403.3,472.7 403.3,473.0 403.3,473.3 403.2,473.7 403.1,474.0 402.9,474.4 402.7,474.8 402.6,475.1 402.3,475.4 402.1,475.7 401.9,476.0 401.6,476.2 401.3,476.4 401.1,476.6 400.8,476.7 400.6,476.7 400.3,476.8 400.1,476.7 399.9,476.6 398.9,476.1 401.7,470.8" fill="url(#g79)" stroke="none"/>
<polyline points="402.7,471.4 402.9,471.5 403.1,471.6 403.2,471.8 403.3,472.1 403.3,472.4 403.3,472.7 403.3,473.0 403.3,473.3 403.2,473.7 403.1,474.0 402.9,474.4 402.7,474.8 402.6,475.1 402.3,475.4 402.1,475.7 401.9,476.0 401.6,476.2 401.3,476.4 401.1,476.6 400.8,476.7 400.6,476.7 400.3,476.8 400.1,476.7 399.9,476.6" fill="none" stroke="#3a3a3a" stroke-width="0.7"/>
<path d="M377,390 L377,407.5 Q377.3,415 384.5,421.75 Q391,424.5 398,424 Q404,423.5 408.5,421 Q414,416 416,410.5 L417.5,400 L417,384 Z" fill="url(#g80)" stroke="#3a3a3a" stroke-width="0.8" stroke-linejoin="round" stroke-linecap="round" />
<path d="M447.3,316.3 L449.1,322.2 L420.8,391.8 L417.7,401.9 L411.9,401.9 L417.0,391.8 Z" fill="#d9d9d9" stroke="#3a3a3a" stroke-width="0.7" stroke-linejoin="round" stroke-linecap="round" />
<path d="M443.5,333.5 L445.6,336.1 L423.3,386.7 L420.3,388.0 Z" fill="#4f4f4f" stroke="none" stroke-width="0" stroke-linejoin="round" stroke-linecap="round" />
<path d="M432.2,355.1 L439.0,352.5 L443.5,356.3 L443.5,363.9 L440.5,369.0 L433.4,371.0 L429.6,367.0 Z" fill="url(#g81)" stroke="#3a3a3a" stroke-width="0.7" stroke-linejoin="round" stroke-linecap="round" />
<ellipse cx="440.5" cy="356.0" rx="4.2" ry="2.6" transform="rotate(-15.0 440.5 356.0)" fill="#bcbcbc" stroke="#3a3a3a" stroke-width="0.6"/>
<path d="M384.2,392 L384.2,415.5 Q388,420.5 394,420.5 Q400,420 402.8,415.5 L402.8,392 Z" fill="url(#g82)" stroke="#3a3a3a" stroke-width="0.8" stroke-linejoin="round" stroke-linecap="round" />
<path d="M414.4,310.8 Q420,306 428,304.3 Q436,303.5 441,305.5 Q446,308.5 447.3,315.8 L408,396 Q404,401 398,402 Q391,402.5 385.3,400.6 Q379,397 377.7,393 Q376.6,389 377.2,386.7 L408,318.4 Z" fill="url(#g83)" stroke="#3a3a3a" stroke-width="0.8" stroke-linejoin="round" stroke-linecap="round" />
<path d="M447.3,316.3 L448.6,320.9 L409.6,399.9 L406.8,397.3 Z" fill="#6f6f6f" stroke="none" stroke-width="0" stroke-linejoin="round" stroke-linecap="round" />
<path d="M420.8,316.8 Q421.5,313 427,312.7 Q432,313 433.4,317 L410.8,366.5 Q409,370 404.3,370.3 Q398.5,369.5 398,366 Z" fill="#fbfbfb" stroke="#3a3a3a" stroke-width="0.7" stroke-linejoin="round" stroke-linecap="round" />
<ellipse cx="394.2" cy="388.0" rx="7.3" ry="4.7" transform="rotate(-5.0 394.2 388.0)" fill="#d3d3d3" stroke="#3a3a3a" stroke-width="0.7"/>
<ellipse cx="394.2" cy="388.4" rx="5.4" ry="3.4" transform="rotate(-5.0 394.2 388.4)" fill="url(#g84)" stroke="#444" stroke-width="0.6"/>
<ellipse cx="414.2" cy="307.2" rx="5.2" ry="5.6" transform="rotate(0.0 414.2 307.2)" fill="url(#g85)" stroke="#3a3a3a" stroke-width="0.7"/>
<ellipse cx="419.0" cy="308.5" rx="3.2" ry="4.6" transform="rotate(10.0 419.0 308.5)" fill="#e6e6e6" stroke="#3a3a3a" stroke-width="0.6"/>
<path d="M423.3,292 L423.3,306 Q428,309.5 433.6,306.5 L433.6,292 Z" fill="url(#g86)" stroke="#3a3a3a" stroke-width="0.7" stroke-linejoin="round" stroke-linecap="round" />
<path d="M405,282.4 L400.5,295.6 Q397.5,300.5 398.3,303.5 Q400,307.3 404,307.2 Q407.5,307 409.4,305.7 L420.8,295.6 L422,294 Z" fill="url(#g87)" stroke="#3a3a3a" stroke-width="0.8" stroke-linejoin="round" stroke-linecap="round" />
<ellipse cx="405.3" cy="299.2" rx="3.1" ry="2.8" transform="rotate(-20.0 405.3 299.2)" fill="#fbfbfb" stroke="#3a3a3a" stroke-width="0.7"/>
<path d="M405,282.4 L414.4,272.3 L436,264 L457.5,275.3 L455,279.9 L443.5,285.4 L436,288 L422,295 L415.7,293 Z" fill="url(#g88)" stroke="#3a3a3a" stroke-width="0.8" stroke-linejoin="round" stroke-linecap="round" />
<path d="M454,273.7 L458.5,276 L459.3,278.6 L455,279.9 L452,277.5 Z" fill="#3a3a3a" stroke="#222" stroke-width="0.5" stroke-linejoin="round" stroke-linecap="round" />
<ellipse cx="428.7" cy="278.2" rx="5.9" ry="3.6" transform="rotate(-8.0 428.7 278.2)" fill="#cfcfcf" stroke="#3a3a3a" stroke-width="0.7"/>
<ellipse cx="428.9" cy="278.7" rx="4.3" ry="2.5" transform="rotate(-8.0 428.9 278.7)" fill="url(#g89)" stroke="#444" stroke-width="0.5"/>
<path d="M437.5,288.5 L446,287 L451,290.5 L446.5,295.8 L439.5,292.8" fill="#f2f2f2" stroke="#2e2e2e" stroke-width="1.5" stroke-linejoin="round" stroke-linecap="round" />
<path d="M440.5,290 L446,289 L448.3,290.8 L445.8,293.6 L441.5,291.8 Z" fill="#fdfdfd" stroke="none" stroke-width="0" stroke-linejoin="round" stroke-linecap="round" />
<ellipse cx="432.6" cy="495.2" rx="6.0" ry="6.7" transform="rotate(0.0 432.6 495.2)" fill="url(#g90)" stroke="#3a3a3a" stroke-width="0.8"/>
<polygon points="437.0,494.9 435.0,498.6 431.0,498.6 429.0,494.9 431.0,491.2 435.0,491.2" fill="url(#g91)" stroke="#444" stroke-width="0.5" stroke-linejoin="round" />
<ellipse cx="475.0" cy="536.0" rx="5.2" ry="5.8" transform="rotate(0.0 475.0 536.0)" fill="url(#g92)" stroke="#3a3a3a" stroke-width="0.8"/>
<polygon points="478.8,535.7 477.1,538.9 473.7,538.9 472.0,535.7 473.7,532.5 477.1,532.5" fill="url(#g93)" stroke="#444" stroke-width="0.5" stroke-linejoin="round" />
<ellipse cx="475.8" cy="475.6" rx="8.0" ry="8.6" transform="rotate(0.0 475.8 475.6)" fill="url(#g94)" stroke="#3a3a3a" stroke-width="0.8"/>
<polygon points="482.4,477.1 478.0,481.0 472.6,478.9 471.6,472.9 476.0,469.0 481.4,471.1" fill="url(#g95)" stroke="#333" stroke-width="0.6" stroke-linejoin="round" />
<ellipse cx="477.4" cy="475.2" rx="2.9" ry="3.2" transform="rotate(0.0 477.4 475.2)" fill="#f2f2f2" stroke="#555" stroke-width="0.5"/>
<line x1="159.0" y1="136.6" x2="219.0" y2="167.0" stroke="#222" stroke-width="0.7"/>
<line x1="135.0" y1="213.6" x2="224.0" y2="229.0" stroke="#222" stroke-width="0.7"/>
<line x1="362.0" y1="48.0" x2="405.0" y2="92.0" stroke="#222" stroke-width="0.7"/>
<line x1="492.0" y1="110.0" x2="548.0" y2="130.0" stroke="#222" stroke-width="0.7"/>
<line x1="493.0" y1="187.0" x2="523.0" y2="207.0" stroke="#222" stroke-width="0.7"/>
<line x1="291.5" y1="280.0" x2="325.0" y2="301.5" stroke="#222" stroke-width="0.7"/>
<line x1="355.0" y1="253.0" x2="372.0" y2="223.0" stroke="#222" stroke-width="0.7"/>
<line x1="490.0" y1="248.0" x2="467.0" y2="233.0" stroke="#222" stroke-width="0.7"/>
<line x1="490.0" y1="248.0" x2="418.0" y2="260.0" stroke="#222" stroke-width="0.7"/>
<line x1="458.0" y1="278.0" x2="508.0" y2="298.0" stroke="#222" stroke-width="0.7"/>
<line x1="445.0" y1="295.0" x2="505.0" y2="325.0" stroke="#222" stroke-width="0.7"/>
<line x1="440.0" y1="365.0" x2="500.0" y2="385.0" stroke="#222" stroke-width="0.7"/>
<line x1="327.0" y1="357.0" x2="392.0" y2="368.0" stroke="#222" stroke-width="0.7"/>
<line x1="106.0" y1="330.0" x2="135.0" y2="300.0" stroke="#222" stroke-width="0.7"/>
<line x1="305.0" y1="435.0" x2="366.0" y2="451.5" stroke="#222" stroke-width="0.7"/>
<line x1="298.0" y1="489.0" x2="403.0" y2="487.0" stroke="#222" stroke-width="0.7"/>
<line x1="340.0" y1="512.0" x2="428.0" y2="497.0" stroke="#222" stroke-width="0.7"/>
<line x1="502.0" y1="462.0" x2="480.0" y2="473.0" stroke="#222" stroke-width="0.7"/>
<line x1="550.0" y1="463.0" x2="565.0" y2="478.0" stroke="#222" stroke-width="0.7"/>
<line x1="515.0" y1="585.0" x2="477.0" y2="537.0" stroke="#222" stroke-width="0.7"/>
<text x="153.0" y="137.0" font-size="13" text-anchor="middle" >8</text>
<text x="128.5" y="219.0" font-size="13" text-anchor="middle" >8</text>
<text x="354.0" y="50.0" font-size="13" text-anchor="middle" >8</text>
<text x="553.0" y="136.0" font-size="13" text-anchor="middle" >8</text>
<text x="530.0" y="215.0" font-size="13" text-anchor="middle" >7</text>
<text x="333.0" y="311.0" font-size="13" text-anchor="middle" >7</text>
<text x="349.0" y="265.0" font-size="13" text-anchor="middle" >10</text>
<text x="495.0" y="254.0" font-size="13" text-anchor="middle" >1</text>
<text x="516.0" y="309.0" font-size="13" text-anchor="middle" >6</text>
<text x="514.0" y="335.0" font-size="13" text-anchor="middle" >10</text>
<text x="509.0" y="393.0" font-size="13" text-anchor="middle" >11</text>
<text x="321.0" y="358.0" font-size="13" text-anchor="middle" >2</text>
<text x="97.0" y="346.0" font-size="13" text-anchor="middle" >3</text>
<text x="298.0" y="436.0" font-size="13" text-anchor="middle" >4</text>
<text x="292.0" y="494.0" font-size="13" text-anchor="middle" >5</text>
<text x="331.0" y="519.0" font-size="13" text-anchor="middle" >10</text>
<text x="510.0" y="463.0" font-size="13" text-anchor="middle" >10</text>
<text x="546.0" y="464.0" font-size="13" text-anchor="middle" >9</text>
<text x="524.0" y="598.0" font-size="13" text-anchor="middle" >10</text>
</svg>
</body></html>
